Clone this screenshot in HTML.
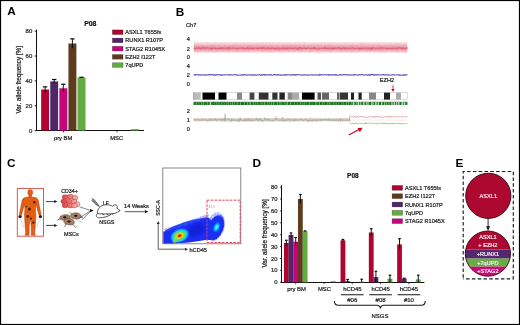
<!DOCTYPE html>
<html><head><meta charset="utf-8"><style>
html,body{margin:0;padding:0;background:#fff;overflow:hidden;}
svg{display:block;opacity:0.999;}
text{font-family:"Liberation Sans",sans-serif;}
</style></head><body>
<svg width="520" height="325" viewBox="0 0 520 325" font-family="Liberation Sans, sans-serif">
<rect width="520" height="325" fill="#fff"/>
<text x="7.20" y="14.90" font-size="11.8" text-anchor="start" font-weight="bold" fill="#000" >A</text>
<text x="90.30" y="26.00" font-size="6.9" text-anchor="middle" font-weight="bold" fill="#111" stroke="#111" stroke-width="0.2" >P08</text>
<line x1="36.50" y1="29.60" x2="36.50" y2="131.00" stroke="#111" stroke-width="1.0" />
<line x1="36.00" y1="130.50" x2="144.00" y2="130.50" stroke="#111" stroke-width="1.0" />
<line x1="34.60" y1="130.60" x2="36.50" y2="130.60" stroke="#111" stroke-width="0.9" />
<text x="32.30" y="132.70" font-size="6" text-anchor="end" fill="#1e1e1e" stroke="#1e1e1e" stroke-width="0.22" >0</text>
<line x1="34.60" y1="105.74" x2="36.50" y2="105.74" stroke="#111" stroke-width="0.9" />
<text x="32.30" y="107.84" font-size="6" text-anchor="end" fill="#1e1e1e" stroke="#1e1e1e" stroke-width="0.22" >20</text>
<line x1="34.60" y1="80.88" x2="36.50" y2="80.88" stroke="#111" stroke-width="0.9" />
<text x="32.30" y="82.98" font-size="6" text-anchor="end" fill="#1e1e1e" stroke="#1e1e1e" stroke-width="0.22" >40</text>
<line x1="34.60" y1="56.02" x2="36.50" y2="56.02" stroke="#111" stroke-width="0.9" />
<text x="32.30" y="58.12" font-size="6" text-anchor="end" fill="#1e1e1e" stroke="#1e1e1e" stroke-width="0.22" >60</text>
<line x1="34.60" y1="31.16" x2="36.50" y2="31.16" stroke="#111" stroke-width="0.9" />
<text x="32.30" y="33.26" font-size="6" text-anchor="end" fill="#1e1e1e" stroke="#1e1e1e" stroke-width="0.22" >80</text>
<line x1="63.50" y1="130.60" x2="63.50" y2="132.40" stroke="#111" stroke-width="0.8" />
<line x1="117.00" y1="130.60" x2="117.00" y2="132.40" stroke="#111" stroke-width="0.8" />
<text x="63.10" y="140.00" font-size="5.8" text-anchor="middle" fill="#1e1e1e" stroke="#1e1e1e" stroke-width="0.22" >pry BM</text>
<text x="116.70" y="140.00" font-size="5.8" text-anchor="middle" fill="#1e1e1e" stroke="#1e1e1e" stroke-width="0.22" >MSC</text>
<text transform="translate(20.8,79.8) rotate(-90)" font-size="6.3" text-anchor="middle" fill="#1e1e1e" stroke="#1e1e1e" stroke-width="0.22">Var. allele frequency [%]</text>
<rect x="41.20" y="89.58" width="7.80" height="41.02" fill="#b2032f" stroke="rgba(0,0,0,0.18)" stroke-width="0.4"/>
<line x1="45.10" y1="86.85" x2="45.10" y2="92.32" stroke="#0a0a0a" stroke-width="0.95" />
<line x1="42.90" y1="86.85" x2="47.30" y2="86.85" stroke="#0a0a0a" stroke-width="1.2" />
<rect x="50.30" y="81.50" width="7.80" height="49.10" fill="#4e266a" stroke="rgba(0,0,0,0.18)" stroke-width="0.4"/>
<line x1="54.20" y1="79.51" x2="54.20" y2="83.49" stroke="#0a0a0a" stroke-width="0.95" />
<line x1="52.00" y1="79.51" x2="56.40" y2="79.51" stroke="#0a0a0a" stroke-width="1.2" />
<rect x="59.40" y="88.34" width="7.80" height="42.26" fill="#c9037a" stroke="rgba(0,0,0,0.18)" stroke-width="0.4"/>
<line x1="63.30" y1="84.24" x2="63.30" y2="92.44" stroke="#0a0a0a" stroke-width="0.95" />
<line x1="61.10" y1="84.24" x2="65.50" y2="84.24" stroke="#0a0a0a" stroke-width="1.2" />
<rect x="68.50" y="43.59" width="7.80" height="87.01" fill="#5e3b1b" stroke="rgba(0,0,0,0.18)" stroke-width="0.4"/>
<line x1="72.40" y1="38.87" x2="72.40" y2="48.31" stroke="#0a0a0a" stroke-width="0.95" />
<line x1="70.20" y1="38.87" x2="74.60" y2="38.87" stroke="#0a0a0a" stroke-width="1.2" />
<rect x="77.60" y="77.65" width="7.80" height="52.95" fill="#64ab42" stroke="rgba(0,0,0,0.18)" stroke-width="0.4"/>
<line x1="81.50" y1="77.28" x2="81.50" y2="78.02" stroke="#0a0a0a" stroke-width="0.95" />
<line x1="79.30" y1="77.28" x2="83.70" y2="77.28" stroke="#0a0a0a" stroke-width="1.2" />
<rect x="131.10" y="129.23" width="7.80" height="1.37" fill="#64ab42" stroke="rgba(0,0,0,0.18)" stroke-width="0.4"/>
<rect x="112.40" y="29.90" width="10.60" height="4.60" fill="#b2032f" stroke="rgba(0,0,0,0.45)" stroke-width="0.5"/>
<text x="125.30" y="34.20" font-size="5.6" text-anchor="start" fill="#1e1e1e" stroke="#1e1e1e" stroke-width="0.22" >ASXL1 T655fs</text>
<rect x="112.40" y="38.12" width="10.60" height="4.60" fill="#4e266a" stroke="rgba(0,0,0,0.45)" stroke-width="0.5"/>
<text x="125.30" y="42.42" font-size="5.6" text-anchor="start" fill="#1e1e1e" stroke="#1e1e1e" stroke-width="0.22" >RUNX1 R107P</text>
<rect x="112.40" y="46.34" width="10.60" height="4.60" fill="#c9037a" stroke="rgba(0,0,0,0.45)" stroke-width="0.5"/>
<text x="125.30" y="50.64" font-size="5.6" text-anchor="start" fill="#1e1e1e" stroke="#1e1e1e" stroke-width="0.22" >STAG2 R1045X</text>
<rect x="112.40" y="54.56" width="10.60" height="4.60" fill="#5e3b1b" stroke="rgba(0,0,0,0.45)" stroke-width="0.5"/>
<text x="125.30" y="58.86" font-size="5.6" text-anchor="start" fill="#1e1e1e" stroke="#1e1e1e" stroke-width="0.22" >EZH2 I122T</text>
<rect x="112.40" y="62.78" width="10.60" height="4.60" fill="#64ab42" stroke="rgba(0,0,0,0.45)" stroke-width="0.5"/>
<text x="125.30" y="67.08" font-size="5.6" text-anchor="start" fill="#1e1e1e" stroke="#1e1e1e" stroke-width="0.22" >7qUPD</text>
<text x="175.70" y="15.70" font-size="11.8" text-anchor="start" font-weight="bold" fill="#000" >B</text>
<text x="186.00" y="27.20" font-size="5.6" text-anchor="start" fill="#1e1e1e" stroke="#1e1e1e" stroke-width="0.22" >Ch7</text>
<text x="188.30" y="41.00" font-size="5.6" text-anchor="middle" fill="#1e1e1e" stroke="#1e1e1e" stroke-width="0.22" >4</text>
<text x="188.30" y="50.60" font-size="5.6" text-anchor="middle" fill="#1e1e1e" stroke="#1e1e1e" stroke-width="0.22" >2</text>
<text x="188.30" y="59.40" font-size="5.6" text-anchor="middle" fill="#1e1e1e" stroke="#1e1e1e" stroke-width="0.22" >0</text>
<text x="188.30" y="68.20" font-size="5.6" text-anchor="middle" fill="#1e1e1e" stroke="#1e1e1e" stroke-width="0.22" >4</text>
<text x="188.30" y="77.30" font-size="5.6" text-anchor="middle" fill="#1e1e1e" stroke="#1e1e1e" stroke-width="0.22" >2</text>
<text x="188.30" y="85.90" font-size="5.6" text-anchor="middle" fill="#1e1e1e" stroke="#1e1e1e" stroke-width="0.22" >0</text>
<text x="188.30" y="112.80" font-size="5.6" text-anchor="middle" fill="#1e1e1e" stroke="#1e1e1e" stroke-width="0.22" >2</text>
<text x="188.30" y="122.00" font-size="5.6" text-anchor="middle" fill="#1e1e1e" stroke="#1e1e1e" stroke-width="0.22" >1</text>
<text x="188.30" y="131.20" font-size="5.6" text-anchor="middle" fill="#1e1e1e" stroke="#1e1e1e" stroke-width="0.22" >0</text>
<defs><linearGradient id="rb" x1="0" y1="0" x2="0" y2="1">
<stop offset="0" stop-color="#fbe2e6" stop-opacity="0"/>
<stop offset="0.12" stop-color="#f9d8de" stop-opacity="0.9"/>
<stop offset="0.3" stop-color="#f3bcc6"/>
<stop offset="0.47" stop-color="#eca0ad"/>
<stop offset="0.55" stop-color="#e58392"/>
<stop offset="0.65" stop-color="#eea8b3"/>
<stop offset="0.82" stop-color="#f5c8d0"/>
<stop offset="1" stop-color="#fbe2e6" stop-opacity="0"/>
</linearGradient></defs>
<rect x="193.8" y="41.2" width="213.60" height="12.6" fill="url(#rb)"/>
<path d="M263.0,49.9v0.7M209.3,50.6v0.7M308.3,47.6v0.7M302.2,48.6v0.7M201.8,47.4v0.7M213.2,48.4v0.7M284.5,48.6v0.7M241.5,47.1v0.7M327.8,50.7v0.7M278.5,47.2v0.7M402.3,52.1v0.7M255.7,49.3v0.7M224.6,49.4v0.7M368.1,49.3v0.7M232.4,45.5v0.7M273.3,46.6v0.7M310.8,48.8v0.7M237.8,48.4v0.7M339.1,46.5v0.7M318.9,48.9v0.7M290.6,47.0v0.7M343.1,51.7v0.7M245.9,45.8v0.7M380.7,46.9v0.7M349.6,46.7v0.7M219.0,53.8v0.7M283.1,48.2v0.7M298.2,46.9v0.7M202.2,46.3v0.7M316.2,45.0v0.7M380.8,46.8v0.7M320.8,51.1v0.7M317.7,44.2v0.7M395.6,49.2v0.7M295.1,47.7v0.7M343.6,47.5v0.7M332.0,52.0v0.7M254.6,47.9v0.7M276.2,47.9v0.7M292.4,47.7v0.7M229.7,48.6v0.7M357.9,48.6v0.7M221.4,48.1v0.7M379.9,50.2v0.7M211.0,45.6v0.7M382.5,48.9v0.7M368.8,49.2v0.7M282.5,46.8v0.7M270.4,52.0v0.7M226.0,44.6v0.7M231.4,48.3v0.7M297.4,49.6v0.7M319.6,48.1v0.7M283.3,48.3v0.7M272.7,43.3v0.7M341.3,46.0v0.7M303.9,45.8v0.7M205.3,46.0v0.7M385.9,48.9v0.7M364.2,43.9v0.7M277.6,47.3v0.7M329.3,48.7v0.7M207.1,49.4v0.7M228.5,48.7v0.7M266.4,48.1v0.7M226.1,48.1v0.7M215.5,47.8v0.7M380.6,48.5v0.7M325.0,49.1v0.7M268.0,49.4v0.7M271.6,51.0v0.7M405.9,50.9v0.7M293.3,47.2v0.7M215.6,48.2v0.7M267.0,47.7v0.7M228.3,52.0v0.7M198.7,50.6v0.7M225.1,47.3v0.7M309.8,50.6v0.7M402.8,48.5v0.7M378.2,47.6v0.7M272.1,46.6v0.7M229.5,48.5v0.7M360.2,45.5v0.7M264.2,48.7v0.7M404.2,51.9v0.7M375.9,49.4v0.7M351.8,44.5v0.7M242.2,46.1v0.7M200.0,47.9v0.7M199.8,47.8v0.7M341.7,49.7v0.7M398.1,43.4v0.7M404.8,49.7v0.7M397.8,47.1v0.7M242.3,49.2v0.7M235.8,48.9v0.7M386.1,50.9v0.7M373.3,45.1v0.7M364.6,48.5v0.7M211.9,45.6v0.7M360.9,44.2v0.7M354.0,46.8v0.7M362.4,48.3v0.7M264.8,49.9v0.7M278.4,42.8v0.7M279.5,51.3v0.7M230.1,47.0v0.7M220.9,50.8v0.7M366.1,51.8v0.7M225.0,50.8v0.7M334.2,42.9v0.7M268.6,47.0v0.7M196.8,47.8v0.7M401.2,46.6v0.7M393.2,46.0v0.7M286.5,50.8v0.7M238.9,45.3v0.7M247.6,47.7v0.7M319.1,49.6v0.7M249.2,47.1v0.7M388.2,48.6v0.7M269.4,45.4v0.7M387.0,48.8v0.7M283.6,50.3v0.7M307.4,46.9v0.7M305.6,50.3v0.7M232.9,48.4v0.7M194.6,48.5v0.7M294.9,46.9v0.7M348.7,46.4v0.7M304.5,47.5v0.7M312.4,48.3v0.7M313.5,47.1v0.7M246.9,47.5v0.7M302.2,51.7v0.7M313.8,48.4v0.7M288.5,43.5v0.7M324.6,45.6v0.7M341.8,48.0v0.7M290.4,45.8v0.7M394.9,47.6v0.7M343.2,51.7v0.7M249.2,44.6v0.7M313.3,51.9v0.7M223.1,46.7v0.7M219.8,47.3v0.7M245.2,48.4v0.7M209.4,46.3v0.7M385.4,44.9v0.7M226.8,47.4v0.7M224.3,45.1v0.7M382.4,49.5v0.7M397.3,47.8v0.7M278.9,41.8v0.7M371.6,48.6v0.7M228.3,45.8v0.7M266.2,49.2v0.7M235.6,46.7v0.7M198.0,51.2v0.7M312.1,47.7v0.7M264.6,48.2v0.7M327.1,47.3v0.7M404.2,48.0v0.7M362.2,49.1v0.7M250.5,47.9v0.7M202.3,48.4v0.7M221.5,46.5v0.7M284.0,51.4v0.7M249.0,46.0v0.7M225.7,50.5v0.7M343.4,46.8v0.7M212.9,51.1v0.7M284.6,49.2v0.7M209.3,50.9v0.7M365.0,47.0v0.7M211.7,48.6v0.7M378.1,47.5v0.7M290.7,46.7v0.7M391.7,50.4v0.7M251.0,49.9v0.7M244.7,50.0v0.7M217.2,48.5v0.7M236.9,48.7v0.7M260.4,46.9v0.7M255.7,51.4v0.7M300.6,48.9v0.7M197.7,49.8v0.7M247.3,51.5v0.7M311.5,48.4v0.7M234.3,43.3v0.7M216.5,48.9v0.7M368.7,45.9v0.7M372.1,49.1v0.7M277.8,44.9v0.7M403.6,48.0v0.7M267.0,49.7v0.7M329.6,45.2v0.7M280.2,47.7v0.7M221.5,48.7v0.7M208.9,48.0v0.7M228.7,46.5v0.7M211.8,50.4v0.7M337.0,44.5v0.7M254.0,48.2v0.7M291.9,49.8v0.7M227.4,46.6v0.7M399.2,48.6v0.7M401.6,46.6v0.7M400.1,47.6v0.7M259.9,48.0v0.7M275.3,48.2v0.7M295.2,46.7v0.7M301.6,48.1v0.7M194.9,48.0v0.7M279.1,49.0v0.7M202.7,49.9v0.7M243.5,48.4v0.7M318.9,44.7v0.7M334.3,47.5v0.7M346.7,49.6v0.7M263.5,46.7v0.7M404.1,50.1v0.7M331.2,50.8v0.7M203.2,50.4v0.7M327.8,44.3v0.7M350.6,48.5v0.7M305.7,47.0v0.7M301.5,50.0v0.7M370.3,44.8v0.7M318.6,50.6v0.7M341.9,46.1v0.7M242.9,49.2v0.7M270.8,48.3v0.7M216.2,49.5v0.7M327.9,45.8v0.7M327.6,47.1v0.7M194.5,45.9v0.7M364.2,48.1v0.7M308.1,45.6v0.7M334.6,51.2v0.7M247.7,49.5v0.7M209.7,47.8v0.7M237.6,51.5v0.7M351.8,50.5v0.7M275.5,47.7v0.7M296.1,46.6v0.7M325.6,44.8v0.7M331.1,49.1v0.7M248.0,48.7v0.7M352.6,47.2v0.7M196.5,50.7v0.7M206.8,47.7v0.7M341.7,51.2v0.7M338.1,47.5v0.7M293.1,50.5v0.7M293.4,51.4v0.7M236.4,51.1v0.7M402.7,48.5v0.7M291.8,47.9v0.7M368.9,50.3v0.7M251.2,47.6v0.7M238.6,49.5v0.7M318.0,47.6v0.7M224.1,43.0v0.7M222.1,47.3v0.7M369.0,43.7v0.7M344.0,47.9v0.7M243.2,50.0v0.7M199.1,46.6v0.7M194.6,45.8v0.7M258.3,48.2v0.7M223.9,47.1v0.7M373.3,49.6v0.7M194.2,48.1v0.7M219.4,44.1v0.7M391.7,47.1v0.7M255.7,43.7v0.7M273.3,42.1v0.7M319.6,52.9v0.7M270.8,46.6v0.7M204.1,48.8v0.7M215.5,49.0v0.7M393.6,46.6v0.7M247.1,47.9v0.7M234.4,50.6v0.7M273.5,52.3v0.7M367.2,46.9v0.7M328.6,52.4v0.7M311.1,45.5v0.7M347.5,51.3v0.7M290.1,49.1v0.7M354.6,47.0v0.7M204.3,46.7v0.7M391.8,49.8v0.7M267.2,49.8v0.7M257.4,47.7v0.7M249.4,42.4v0.7M333.9,47.3v0.7M278.0,50.6v0.7M229.5,48.9v0.7M387.3,49.3v0.7M300.0,49.0v0.7M406.6,52.6v0.7M289.9,49.0v0.7M213.2,49.2v0.7M266.8,49.4v0.7M249.0,48.9v0.7M315.5,50.8v0.7M282.0,45.8v0.7M282.2,46.1v0.7M266.0,47.8v0.7M207.1,47.2v0.7M220.7,53.5v0.7M301.3,45.2v0.7M239.9,45.1v0.7M251.7,48.1v0.7M289.0,50.2v0.7M397.6,50.6v0.7M198.5,44.6v0.7M200.7,47.0v0.7M294.9,43.8v0.7M319.2,50.2v0.7M391.8,48.1v0.7M370.1,51.6v0.7M246.9,43.7v0.7M217.1,49.5v0.7M339.5,50.2v0.7M394.9,47.6v0.7M357.2,45.1v0.7M291.5,47.5v0.7M360.9,47.9v0.7M243.5,50.7v0.7M258.7,46.6v0.7M221.1,48.1v0.7M343.0,51.1v0.7M217.8,50.4v0.7M318.3,49.2v0.7M276.7,48.6v0.7M196.0,50.9v0.7M258.2,43.0v0.7M331.5,49.4v0.7M382.6,46.6v0.7M246.6,48.3v0.7M399.0,47.6v0.7M198.5,46.4v0.7M300.2,47.1v0.7M248.7,46.2v0.7M336.3,49.4v0.7M201.1,47.4v0.7M266.0,45.3v0.7M236.1,49.6v0.7M364.1,47.9v0.7M237.6,45.6v0.7M401.0,46.6v0.7M243.1,51.7v0.7M241.1,48.2v0.7M397.1,46.3v0.7M299.7,48.7v0.7M282.9,49.5v0.7M335.9,49.2v0.7M277.8,47.7v0.7M239.3,49.2v0.7M204.9,47.9v0.7M206.6,44.6v0.7M382.5,50.9v0.7M350.3,53.0v0.7M264.1,48.0v0.7M233.4,51.3v0.7M200.6,46.7v0.7M335.7,46.6v0.7M264.7,49.5v0.7M230.0,49.8v0.7M268.9,48.1v0.7M397.9,52.0v0.7M238.1,51.9v0.7M270.0,49.8v0.7M286.2,44.6v0.7M204.3,46.1v0.7M390.2,48.4v0.7M235.0,45.2v0.7M200.3,51.5v0.7M281.5,49.5v0.7M202.5,44.8v0.7M201.2,52.5v0.7M248.7,49.9v0.7M353.4,49.6v0.7M252.0,47.0v0.7M398.4,46.9v0.7M346.9,47.0v0.7M261.4,48.1v0.7M355.2,48.3v0.7M389.6,44.7v0.7M199.0,44.3v0.7M243.8,42.9v0.7M397.6,48.9v0.7M276.4,48.1v0.7M299.2,50.3v0.7M392.0,49.6v0.7M351.5,51.6v0.7M369.5,48.5v0.7M263.8,45.3v0.7M262.1,45.7v0.7M210.7,50.9v0.7M235.9,48.1v0.7M207.6,46.5v0.7M201.0,46.3v0.7M403.2,47.5v0.7M382.5,49.7v0.7M211.8,48.0v0.7M214.4,44.8v0.7M289.3,48.1v0.7M243.8,45.6v0.7M337.8,49.6v0.7M353.6,49.9v0.7M219.7,45.6v0.7M373.4,47.4v0.7M273.5,50.7v0.7M351.5,48.6v0.7M246.2,49.6v0.7M226.5,50.2v0.7M263.5,46.3v0.7M278.4,50.6v0.7M243.2,48.0v0.7M366.5,44.4v0.7M215.7,42.8v0.7M295.2,49.8v0.7M389.1,44.4v0.7M202.4,47.8v0.7M234.3,49.1v0.7M401.6,43.9v0.7M273.3,45.7v0.7M378.8,46.6v0.7M359.9,48.6v0.7M395.8,50.3v0.7M326.2,49.8v0.7M240.3,47.3v0.7M237.4,49.0v0.7M248.2,45.6v0.7M237.3,46.3v0.7M196.2,46.6v0.7M233.3,50.9v0.7M260.5,49.2v0.7M310.9,51.7v0.7M207.3,49.8v0.7M311.3,49.4v0.7M330.3,49.2v0.7M342.3,48.8v0.7M281.3,47.7v0.7M397.4,49.9v0.7M260.5,46.3v0.7M282.8,47.3v0.7M378.4,50.1v0.7M235.9,48.1v0.7M349.3,48.2v0.7M386.4,48.3v0.7M284.3,49.0v0.7M382.4,46.2v0.7M292.2,48.3v0.7M311.6,48.4v0.7M330.6,48.9v0.7M326.7,47.6v0.7M273.0,46.9v0.7M254.3,48.1v0.7M305.1,49.0v0.7M298.6,47.6v0.7M365.7,49.5v0.7M220.9,47.8v0.7M395.2,50.5v0.7M205.2,47.7v0.7M391.6,44.6v0.7M326.3,51.0v0.7M369.9,50.1v0.7M241.2,51.2v0.7M280.2,50.3v0.7M232.9,44.9v0.7M240.4,46.1v0.7M275.7,49.6v0.7M220.1,48.2v0.7M385.5,51.5v0.7M202.6,44.8v0.7M201.9,46.8v0.7M372.8,50.2v0.7M311.3,50.0v0.7M327.7,47.3v0.7M318.2,50.2v0.7M284.7,46.9v0.7M287.4,46.2v0.7M198.8,46.3v0.7M244.0,46.4v0.7M356.9,48.5v0.7M232.2,45.8v0.7M294.9,49.0v0.7M285.8,48.8v0.7M213.4,45.8v0.7M202.5,49.0v0.7M329.7,51.1v0.7M359.9,49.8v0.7M303.1,50.4v0.7M274.5,48.9v0.7M396.9,50.8v0.7M406.6,51.2v0.7M350.2,48.6v0.7M403.5,46.8v0.7M298.9,52.6v0.7M229.1,46.8v0.7M362.2,48.8v0.7M268.8,47.8v0.7M355.3,50.5v0.7M252.5,51.9v0.7M368.0,49.6v0.7M390.3,50.0v0.7M238.3,47.9v0.7M262.0,50.6v0.7M201.7,48.6v0.7M393.8,49.2v0.7M339.0,49.1v0.7M361.4,47.3v0.7M218.4,45.2v0.7M270.6,47.5v0.7M380.3,45.5v0.7M382.3,47.2v0.7M216.1,51.1v0.7M278.0,48.0v0.7M364.2,47.5v0.7M317.1,54.5v0.7M270.7,48.3v0.7M231.6,45.8v0.7M352.6,51.8v0.7M248.0,49.3v0.7M330.3,50.9v0.7M335.6,47.8v0.7M260.6,48.7v0.7M225.7,48.1v0.7M325.4,45.8v0.7M385.1,49.1v0.7M222.0,48.5v0.7M198.6,51.1v0.7M194.4,47.5v0.7M270.1,48.9v0.7M241.7,45.7v0.7M237.4,46.7v0.7M327.1,47.0v0.7M393.9,48.3v0.7M245.8,48.7v0.7M330.1,48.9v0.7M379.9,48.5v0.7M250.2,46.0v0.7M196.3,46.4v0.7M268.6,46.0v0.7M331.7,43.5v0.7M350.5,49.8v0.7M246.9,48.6v0.7M307.3,47.7v0.7M280.5,48.2v0.7M360.2,48.8v0.7M196.4,43.4v0.7M224.2,46.5v0.7M236.4,46.2v0.7M330.8,46.5v0.7M367.5,48.9v0.7M257.9,49.7v0.7M204.2,50.9v0.7M346.6,45.7v0.7M195.2,50.0v0.7M293.2,45.2v0.7M352.2,46.7v0.7M216.3,48.5v0.7M243.4,49.9v0.7M353.9,48.6v0.7M342.3,50.0v0.7M250.6,45.4v0.7M312.1,44.7v0.7M305.6,49.5v0.7M250.5,44.7v0.7M240.2,43.9v0.7M381.8,49.7v0.7M244.2,48.3v0.7M352.7,51.4v0.7M263.6,46.9v0.7M381.8,47.4v0.7M387.7,49.5v0.7M328.5,47.0v0.7M402.9,45.2v0.7M294.1,49.8v0.7M377.0,45.4v0.7M287.2,47.7v0.7M259.5,45.4v0.7M239.1,47.5v0.7M388.3,47.5v0.7M224.7,49.1v0.7M392.2,48.3v0.7M267.5,48.4v0.7M202.7,48.5v0.7M341.7,45.9v0.7M351.2,45.7v0.7M207.8,46.4v0.7M368.4,47.0v0.7M368.9,48.7v0.7M379.2,47.6v0.7M389.1,49.0v0.7M237.7,47.8v0.7M217.7,52.1v0.7M367.2,49.0v0.7M329.3,49.4v0.7M255.2,45.5v0.7M215.1,51.0v0.7M237.6,50.1v0.7M262.0,47.7v0.7M248.6,48.3v0.7M254.2,47.7v0.7M262.3,46.1v0.7M399.7,44.0v0.7M325.9,48.0v0.7M200.4,46.2v0.7M358.9,49.3v0.7M267.9,47.4v0.7M240.1,45.6v0.7M378.0,51.4v0.7M230.2,50.2v0.7M194.1,49.2v0.7M402.7,51.5v0.7M194.7,45.7v0.7M364.0,48.2v0.7M233.2,46.2v0.7M371.5,48.2v0.7M249.5,49.7v0.7M239.7,47.5v0.7M343.2,47.1v0.7M329.8,48.1v0.7M211.1,48.9v0.7M361.9,44.9v0.7M327.9,46.8v0.7M278.1,49.8v0.7M384.0,51.9v0.7M199.2,50.4v0.7M237.8,47.7v0.7M300.9,52.6v0.7M274.8,49.2v0.7M292.2,47.1v0.7M307.3,48.2v0.7M331.8,44.6v0.7M268.2,47.5v0.7M373.9,49.2v0.7M335.2,48.0v0.7M287.5,46.8v0.7M359.0,47.1v0.7M292.5,47.6v0.7M382.9,48.2v0.7M258.2,49.5v0.7M344.0,48.8v0.7M227.1,47.1v0.7M246.7,46.9v0.7M228.2,50.4v0.7M263.9,50.2v0.7M349.5,53.4v0.7M215.5,49.0v0.7M275.9,47.9v0.7M403.9,49.1v0.7M286.7,44.8v0.7M235.7,47.5v0.7M237.9,47.3v0.7M276.7,50.2v0.7M362.8,48.5v0.7M341.9,45.1v0.7M292.8,48.1v0.7M224.1,46.4v0.7M352.1,46.8v0.7M387.7,45.6v0.7M353.8,49.3v0.7M283.8,48.6v0.7M381.8,51.4v0.7M359.1,46.8v0.7M339.0,44.2v0.7M330.8,46.4v0.7M328.0,48.6v0.7M214.7,44.9v0.7M346.1,49.9v0.7M328.3,48.1v0.7M291.0,50.3v0.7M326.6,45.4v0.7M392.5,49.8v0.7M232.9,46.0v0.7M276.8,45.1v0.7M298.4,48.7v0.7M309.9,48.0v0.7M228.2,49.1v0.7M304.7,43.2v0.7M215.4,45.8v0.7M347.0,46.9v0.7M303.2,45.6v0.7M305.2,45.1v0.7M281.5,49.5v0.7M340.0,47.6v0.7M277.6,48.2v0.7M404.1,47.0v0.7M269.7,49.7v0.7M279.2,48.7v0.7M196.6,46.2v0.7M342.9,49.2v0.7M269.0,48.0v0.7M352.2,49.6v0.7M394.6,46.6v0.7M365.0,47.9v0.7M277.5,48.4v0.7M359.7,49.2v0.7M366.7,46.5v0.7M313.9,46.3v0.7M242.1,50.0v0.7M330.2,47.7v0.7M368.7,49.1v0.7M256.7,45.9v0.7M310.9,50.9v0.7M269.6,50.9v0.7M375.5,47.9v0.7M248.0,50.1v0.7M284.8,48.2v0.7M348.0,48.2v0.7M253.9,48.2v0.7M296.2,49.9v0.7M285.3,46.1v0.7M271.2,45.8v0.7M392.2,48.5v0.7M370.6,47.5v0.7M387.3,48.3v0.7M371.4,47.0v0.7M329.0,48.4v0.7M397.1,48.1v0.7M333.9,48.1v0.7M224.3,49.1v0.7M243.7,48.4v0.7M226.4,46.2v0.7M386.9,48.4v0.7M384.1,46.9v0.7M323.7,48.7v0.7M384.7,45.0v0.7M362.1,48.8v0.7M341.8,46.9v0.7M307.2,48.0v0.7M382.3,45.8v0.7M312.4,48.0v0.7M223.6,49.6v0.7M299.1,50.3v0.7M224.6,48.9v0.7M298.8,45.5v0.7M378.1,48.1v0.7M195.2,49.4v0.7M314.0,46.1v0.7M335.9,49.2v0.7M283.3,46.4v0.7M399.0,50.8v0.7M329.7,49.5v0.7M199.9,45.6v0.7M392.8,46.1v0.7M264.4,50.6v0.7M297.3,47.8v0.7M385.5,51.4v0.7M327.4,48.8v0.7M266.1,49.4v0.7M295.2,46.6v0.7M306.1,48.3v0.7M286.8,46.7v0.7M284.0,44.4v0.7M256.4,46.8v0.7M370.6,46.1v0.7M251.8,49.5v0.7M302.0,51.1v0.7M363.0,47.6v0.7M264.5,47.4v0.7M319.1,49.7v0.7M329.4,48.2v0.7M348.2,47.5v0.7M383.0,47.5v0.7M258.0,47.9v0.7M195.1,49.8v0.7M323.8,52.5v0.7M334.4,49.2v0.7M324.5,43.6v0.7M325.5,45.8v0.7M321.2,45.8v0.7M339.3,48.8v0.7M291.6,51.1v0.7M356.7,49.2v0.7M201.7,48.9v0.7M359.2,50.7v0.7M272.6,46.5v0.7M369.5,48.7v0.7M248.9,45.5v0.7M258.3,46.5v0.7M285.8,49.0v0.7M330.9,48.7v0.7M315.0,47.8v0.7M202.2,50.9v0.7M316.7,50.7v0.7M390.0,47.8v0.7M276.5,48.2v0.7M320.2,53.6v0.7M295.4,45.8v0.7M281.9,50.5v0.7M239.1,49.9v0.7M226.2,48.3v0.7M339.9,48.1v0.7M219.8,49.0v0.7M379.5,47.9v0.7M221.3,51.4v0.7M245.5,48.5v0.7M350.5,48.4v0.7M359.1,48.7v0.7M346.2,50.2v0.7M211.8,45.4v0.7M328.1,47.5v0.7M392.9,45.8v0.7M248.1,51.4v0.7M196.2,47.4v0.7M196.9,45.8v0.7M210.8,45.0v0.7M260.2,47.9v0.7M377.7,46.8v0.7M297.7,50.0v0.7M316.6,48.8v0.7M287.5,47.6v0.7M364.1,47.0v0.7M271.4,46.3v0.7M283.1,45.8v0.7M276.2,49.2v0.7M361.4,43.2v0.7M314.9,47.9v0.7M401.8,48.8v0.7M344.0,49.0v0.7M323.2,46.4v0.7M402.6,49.5v0.7M259.7,45.6v0.7M285.3,49.7v0.7M340.1,46.8v0.7M322.3,51.1v0.7M254.3,45.8v0.7M194.2,47.9v0.7M319.1,50.3v0.7M368.1,48.6v0.7M371.8,47.7v0.7M367.2,49.9v0.7M252.3,46.1v0.7M375.6,49.2v0.7M389.0,45.1v0.7M267.9,50.4v0.7M364.1,49.5v0.7M236.6,48.1v0.7M243.8,43.2v0.7M323.4,47.1v0.7M237.9,46.0v0.7M248.2,48.1v0.7M292.0,44.4v0.7M212.5,49.4v0.7M243.5,44.7v0.7M317.6,51.6v0.7M305.3,45.5v0.7M295.6,46.9v0.7M234.9,47.4v0.7M232.4,47.5v0.7M314.4,46.2v0.7M279.8,46.9v0.7M203.3,48.0v0.7M406.8,47.4v0.7M329.0,48.8v0.7M362.0,49.7v0.7M267.5,50.5v0.7M304.8,48.6v0.7M405.4,48.2v0.7M378.8,45.4v0.7M249.7,48.3v0.7M360.2,43.6v0.7M357.7,50.4v0.7M368.7,49.7v0.7M201.9,47.7v0.7M236.7,48.5v0.7M204.7,48.9v0.7M312.9,49.7v0.7M396.1,46.4v0.7M388.2,50.7v0.7M278.7,49.2v0.7M219.4,49.7v0.7M314.4,47.7v0.7M330.6,51.1v0.7M277.8,47.3v0.7M289.6,51.0v0.7M405.6,52.7v0.7M241.2,49.7v0.7M269.0,48.5v0.7M386.6,51.4v0.7M203.8,45.8v0.7M361.8,47.3v0.7M404.3,45.2v0.7M205.7,50.3v0.7M394.5,50.9v0.7M338.4,47.3v0.7M355.7,50.8v0.7M216.3,47.4v0.7M220.3,49.5v0.7M296.6,48.9v0.7M224.4,49.5v0.7M338.5,51.4v0.7M235.5,48.4v0.7M201.5,49.4v0.7M393.3,47.4v0.7M378.9,49.0v0.7M289.3,47.4v0.7M214.5,51.7v0.7M328.0,46.4v0.7M290.4,46.0v0.7M295.8,51.4v0.7M328.0,49.0v0.7M205.9,49.3v0.7M346.3,47.0v0.7M379.8,47.7v0.7M250.7,47.1v0.7M251.7,48.7v0.7M373.1,47.5v0.7M298.7,49.2v0.7M261.7,48.9v0.7M402.8,47.5v0.7M205.9,50.6v0.7M238.9,46.2v0.7M295.8,47.7v0.7M236.9,49.7v0.7M271.6,55.5v0.7M391.4,47.7v0.7M214.6,47.0v0.7M206.1,52.4v0.7M349.0,46.5v0.7M197.2,53.7v0.7M366.2,47.5v0.7M194.2,49.1v0.7M371.6,46.8v0.7M286.8,47.9v0.7M388.6,48.6v0.7M223.3,50.8v0.7M232.3,48.5v0.7M235.8,44.8v0.7M210.7,50.6v0.7M299.6,49.6v0.7M252.3,48.9v0.7M345.0,50.9v0.7M367.2,46.9v0.7M207.8,47.4v0.7M350.3,45.3v0.7M205.6,49.9v0.7M367.0,46.0v0.7M378.5,51.6v0.7M299.1,52.7v0.7M295.6,48.5v0.7M380.1,48.0v0.7M371.4,49.4v0.7M272.2,49.1v0.7M320.9,49.8v0.7M194.8,45.8v0.7M303.9,47.8v0.7M219.6,47.2v0.7M378.7,44.3v0.7M262.4,47.6v0.7M354.3,46.1v0.7M206.9,51.7v0.7M299.5,44.4v0.7M303.4,45.5v0.7M198.2,47.6v0.7M400.4,48.3v0.7M215.7,49.4v0.7M247.3,48.3v0.7M214.4,47.6v0.7M343.1,48.2v0.7M321.8,48.5v0.7M316.9,44.9v0.7M215.8,47.6v0.7M379.5,48.0v0.7M220.1,47.5v0.7M299.2,46.4v0.7M219.9,48.1v0.7M280.4,49.9v0.7M377.7,50.2v0.7M225.2,45.0v0.7M228.9,46.6v0.7M370.2,50.0v0.7M283.6,47.3v0.7M373.2,46.0v0.7M394.9,47.8v0.7M359.7,47.3v0.7M265.4,49.4v0.7M286.8,51.9v0.7M388.8,47.7v0.7M367.9,48.5v0.7M304.3,47.5v0.7M398.4,49.6v0.7M284.0,47.5v0.7M328.9,46.4v0.7M208.6,50.0v0.7M286.3,47.7v0.7M223.6,48.1v0.7M400.9,48.9v0.7M329.1,43.2v0.7M366.7,51.4v0.7M201.1,45.2v0.7M330.8,47.8v0.7M252.2,51.2v0.7M309.6,50.7v0.7M247.3,46.8v0.7M304.9,43.4v0.7M255.2,50.2v0.7M259.0,47.5v0.7M320.7,47.2v0.7M398.0,46.4v0.7M293.4,48.0v0.7M307.8,48.7v0.7M221.9,49.0v0.7M256.5,46.7v0.7M245.8,49.1v0.7M212.6,44.3v0.7M324.1,46.9v0.7M315.6,47.3v0.7M345.5,47.0v0.7M292.2,45.3v0.7M294.0,47.2v0.7M260.1,48.2v0.7M303.3,49.6v0.7M275.6,47.8v0.7M269.1,47.9v0.7M377.9,48.3v0.7M298.8,50.8v0.7M254.6,49.9v0.7M358.7,48.0v0.7M227.7,52.0v0.7M287.8,49.8v0.7M207.0,46.4v0.7M350.9,49.6v0.7M217.1,48.9v0.7M351.6,53.3v0.7M226.8,47.1v0.7M338.1,49.8v0.7M325.4,50.4v0.7M304.4,44.9v0.7M351.6,48.0v0.7M295.3,44.6v0.7M361.5,46.9v0.7M221.0,43.6v0.7M379.8,51.7v0.7M318.9,48.2v0.7M300.1,50.8v0.7M283.1,47.5v0.7M361.2,50.1v0.7M274.9,46.0v0.7M290.4,44.9v0.7M256.4,49.0v0.7M277.3,46.2v0.7M262.6,47.4v0.7M361.9,49.5v0.7M288.6,46.1v0.7M233.1,47.7v0.7M316.7,49.2v0.7M318.0,52.1v0.7M263.0,50.6v0.7M373.9,50.9v0.7M237.4,43.6v0.7M284.9,48.4v0.7M203.9,47.9v0.7M314.5,43.4v0.7M359.0,48.2v0.7M308.8,50.6v0.7M304.3,48.1v0.7M340.2,46.6v0.7M320.8,49.4v0.7M268.8,51.1v0.7M306.0,47.1v0.7M214.9,46.6v0.7M313.7,49.6v0.7M316.4,52.1v0.7M297.8,44.4v0.7M287.8,43.1v0.7M267.1,43.2v0.7M307.0,48.6v0.7M261.7,46.9v0.7M402.8,49.3v0.7M217.4,45.9v0.7M384.9,46.7v0.7M405.3,44.5v0.7M383.5,47.0v0.7M255.7,48.7v0.7M303.1,46.7v0.7M232.8,48.1v0.7M328.4,46.5v0.7M406.1,46.9v0.7M329.8,50.2v0.7M362.0,48.7v0.7M259.3,48.0v0.7M258.8,47.9v0.7M373.7,45.4v0.7M235.8,46.5v0.7M300.1,46.5v0.7M332.0,47.6v0.7M307.3,50.8v0.7M281.6,48.1v0.7M219.8,50.1v0.7M216.6,51.1v0.7M215.2,49.3v0.7M369.6,50.3v0.7M324.7,48.4v0.7M196.5,47.4v0.7M358.4,46.6v0.7M269.4,51.1v0.7M230.0,48.0v0.7M386.9,49.1v0.7M318.2,46.8v0.7M276.2,50.0v0.7M205.5,50.2v0.7M398.8,46.3v0.7M287.7,46.9v0.7M203.2,47.0v0.7M392.6,49.2v0.7M385.8,46.7v0.7M368.1,47.2v0.7M398.9,50.8v0.7M299.6,49.6v0.7M277.1,47.6v0.7M347.3,48.4v0.7M380.8,49.9v0.7M297.3,48.5v0.7M230.9,46.6v0.7M270.4,50.3v0.7M255.9,53.3v0.7M313.7,50.0v0.7M276.2,49.8v0.7M279.9,49.1v0.7M370.2,48.5v0.7M268.8,48.1v0.7M254.4,49.5v0.7M244.5,51.1v0.7M266.7,48.8v0.7M227.1,47.8v0.7M251.4,47.2v0.7M372.2,49.7v0.7M372.4,49.7v0.7M365.7,49.2v0.7M348.1,49.7v0.7M274.3,49.5v0.7M396.9,47.7v0.7M301.6,48.4v0.7M221.8,50.4v0.7M344.7,47.8v0.7M319.3,52.6v0.7M272.4,48.2v0.7M239.2,51.0v0.7M380.1,49.9v0.7M309.7,49.9v0.7M251.6,48.4v0.7M334.2,46.0v0.7M315.1,47.3v0.7M212.2,50.0v0.7M231.6,49.2v0.7M335.4,46.6v0.7M217.1,46.3v0.7M300.7,47.3v0.7M257.2,49.8v0.7M242.2,48.8v0.7M220.7,47.7v0.7M280.0,46.4v0.7M387.9,48.8v0.7M377.8,43.8v0.7M222.0,48.0v0.7M339.0,48.6v0.7M335.5,46.8v0.7M334.6,49.8v0.7M343.2,48.1v0.7M269.0,52.2v0.7M328.1,48.5v0.7M388.7,49.0v0.7M350.6,48.0v0.7M202.3,47.5v0.7M228.4,48.7v0.7M275.1,49.8v0.7M202.2,47.0v0.7M232.2,50.9v0.7M373.1,45.1v0.7M248.2,46.7v0.7M286.7,47.3v0.7M194.0,46.3v0.7M372.0,48.4v0.7M203.0,46.4v0.7M376.2,47.6v0.7M246.0,47.7v0.7M217.5,48.5v0.7M389.1,46.7v0.7M353.9,50.9v0.7M277.9,49.8v0.7M353.5,48.9v0.7M213.0,46.6v0.7M395.9,43.8v0.7M341.5,50.3v0.7M351.6,49.5v0.7M290.5,45.5v0.7M205.4,47.4v0.7M303.1,46.0v0.7M392.0,50.6v0.7M203.1,50.7v0.7M343.9,48.7v0.7M310.5,46.6v0.7M400.9,46.4v0.7M247.1,46.1v0.7M206.5,46.7v0.7M236.8,49.8v0.7M260.1,50.3v0.7M337.0,50.6v0.7M244.6,48.2v0.7M288.9,50.6v0.7M393.7,47.0v0.7M382.8,49.5v0.7M224.1,46.4v0.7M368.0,47.4v0.7M310.9,48.2v0.7M336.2,46.8v0.7M321.7,44.6v0.7M371.3,49.0v0.7M218.3,47.6v0.7M237.9,50.0v0.7M206.7,47.8v0.7M343.7,49.5v0.7M289.5,49.5v0.7M293.9,49.3v0.7M271.3,48.5v0.7M196.1,48.8v0.7M405.7,48.1v0.7M347.0,47.2v0.7M403.2,47.2v0.7M298.2,47.7v0.7M286.6,49.1v0.7M195.6,50.5v0.7M390.2,46.3v0.7M393.6,45.8v0.7M333.2,48.1v0.7M223.4,49.7v0.7M199.7,48.7v0.7M257.1,44.1v0.7M233.5,45.5v0.7M391.7,45.0v0.7M229.8,49.0v0.7M352.4,44.2v0.7M263.6,49.7v0.7M262.2,51.7v0.7M272.5,46.2v0.7M371.4,47.5v0.7M244.9,50.7v0.7M328.0,48.8v0.7M368.9,46.8v0.7M395.6,43.7v0.7M299.4,46.9v0.7M257.8,48.1v0.7M317.9,50.9v0.7M228.8,49.6v0.7M288.5,49.0v0.7M202.3,47.9v0.7M287.7,49.3v0.7M194.4,51.2v0.7M373.4,50.4v0.7M284.7,45.2v0.7M254.3,46.8v0.7M283.8,46.0v0.7M266.1,45.2v0.7M370.2,49.3v0.7M386.9,49.0v0.7M288.5,49.6v0.7M314.1,47.3v0.7M212.0,49.2v0.7M262.9,42.7v0.7M387.9,49.5v0.7M378.7,53.4v0.7M326.2,47.2v0.7M367.1,51.0v0.7M323.9,49.3v0.7M257.2,43.4v0.7M296.5,45.9v0.7M332.1,47.5v0.7M382.9,49.9v0.7M199.7,49.3v0.7M289.4,51.0v0.7M212.0,47.0v0.7M317.9,46.4v0.7M282.7,45.4v0.7M278.5,47.6v0.7M218.2,50.0v0.7M310.9,52.1v0.7M217.8,49.1v0.7M214.1,46.9v0.7M307.2,48.1v0.7M312.1,50.5v0.7M242.2,47.2v0.7M303.4,47.6v0.7M319.5,50.0v0.7M209.5,49.1v0.7M287.7,49.8v0.7M346.4,46.1v0.7M355.5,52.9v0.7M347.9,52.3v0.7M215.6,49.1v0.7M230.4,46.3v0.7M398.9,44.8v0.7M223.0,46.7v0.7M359.6,49.5v0.7M273.3,48.6v0.7M197.0,46.9v0.7M257.9,47.3v0.7M344.9,44.2v0.7M326.5,50.1v0.7M380.1,43.8v0.7M379.8,46.3v0.7M229.7,48.0v0.7M356.9,46.2v0.7M339.2,48.6v0.7M273.5,47.1v0.7M351.3,51.3v0.7M203.1,47.0v0.7M322.8,50.2v0.7M365.3,49.7v0.7M217.9,50.9v0.7M248.2,46.7v0.7M235.1,44.3v0.7M318.0,49.4v0.7M218.1,49.1v0.7M364.8,48.2v0.7M233.4,46.5v0.7M340.6,47.5v0.7M275.1,50.7v0.7M308.8,51.5v0.7M341.1,49.9v0.7M196.7,43.3v0.7M266.9,49.5v0.7M380.3,50.1v0.7M364.8,49.4v0.7M368.6,48.4v0.7M338.9,46.2v0.7M227.6,49.6v0.7M374.3,44.8v0.7M324.3,50.7v0.7M210.0,47.4v0.7M384.8,49.4v0.7M319.7,49.3v0.7M270.9,48.4v0.7M293.7,46.3v0.7M269.3,47.1v0.7M195.1,46.4v0.7M198.2,47.2v0.7M291.9,48.7v0.7M224.9,48.0v0.7M337.1,47.9v0.7M300.6,49.8v0.7M249.8,45.8v0.7M398.2,47.0v0.7M405.7,50.7v0.7M358.5,48.7v0.7M380.1,48.6v0.7M329.4,45.2v0.7M271.3,47.4v0.7M380.2,51.8v0.7M394.3,47.4v0.7M356.8,46.5v0.7M351.8,45.1v0.7M268.7,47.9v0.7M311.4,47.5v0.7M265.8,48.5v0.7M262.8,50.5v0.7M272.3,47.9v0.7M245.8,48.3v0.7M222.8,50.0v0.7M195.3,49.7v0.7M289.0,46.4v0.7M315.3,47.7v0.7M208.0,49.3v0.7M258.2,46.9v0.7M311.6,51.3v0.7M394.0,45.6v0.7M318.4,52.1v0.7M210.9,49.3v0.7M404.7,50.6v0.7M270.1,48.4v0.7M379.3,45.9v0.7M208.3,43.6v0.7M252.7,48.5v0.7M248.8,49.3v0.7M251.1,48.3v0.7M344.3,48.5v0.7M236.6,50.2v0.7M322.6,50.1v0.7M235.8,45.8v0.7M350.6,50.9v0.7M210.7,47.4v0.7M366.7,49.5v0.7M223.0,46.7v0.7M234.0,43.9v0.7M330.5,47.1v0.7M390.9,48.5v0.7M353.9,49.9v0.7M332.4,45.5v0.7M265.9,49.9v0.7M206.1,47.6v0.7M327.6,48.4v0.7M265.3,45.3v0.7M248.7,48.2v0.7M292.8,52.9v0.7M314.3,48.5v0.7M404.7,50.8v0.7M348.5,49.1v0.7M264.1,49.1v0.7M224.3,48.8v0.7M357.7,51.4v0.7M284.2,50.2v0.7M308.9,45.8v0.7M334.2,46.7v0.7M322.3,46.4v0.7M248.9,51.1v0.7M345.8,48.4v0.7M259.9,44.5v0.7M358.8,50.4v0.7M253.2,47.8v0.7M305.6,49.1v0.7M195.7,47.7v0.7M295.4,46.1v0.7M271.2,45.1v0.7M405.2,48.6v0.7M213.0,51.6v0.7M199.8,48.6v0.7M301.0,48.7v0.7M312.4,50.2v0.7M271.9,52.6v0.7M225.7,49.6v0.7M390.6,51.2v0.7M228.4,51.7v0.7M245.6,48.8v0.7M403.6,45.1v0.7M267.3,48.1v0.7M364.8,46.3v0.7M386.8,48.6v0.7M216.8,48.0v0.7M331.7,47.3v0.7M279.6,48.6v0.7M314.3,47.5v0.7M281.4,52.5v0.7M327.8,45.6v0.7M241.7,48.1v0.7M286.5,49.7v0.7M243.2,49.1v0.7M331.1,51.5v0.7M257.6,49.6v0.7M315.5,48.0v0.7M227.3,50.9v0.7M250.9,44.9v0.7M354.3,48.9v0.7M264.6,46.6v0.7M297.5,49.1v0.7M339.6,47.3v0.7M321.4,45.5v0.7M382.4,48.9v0.7M238.6,49.6v0.7M360.4,46.8v0.7M378.2,49.8v0.7M406.3,51.9v0.7M257.4,49.1v0.7M401.9,48.3v0.7M195.8,49.1v0.7M351.0,47.5v0.7M214.6,49.7v0.7M213.1,50.9v0.7M266.3,51.0v0.7M382.2,46.5v0.7M403.1,49.6v0.7M363.0,48.4v0.7M341.1,50.5v0.7M243.3,48.7v0.7M285.8,48.4v0.7M405.4,48.4v0.7M261.4,48.9v0.7M297.9,47.4v0.7M222.8,46.9v0.7M340.2,48.7v0.7M225.4,47.9v0.7M217.8,45.6v0.7M269.3,43.4v0.7M268.4,48.2v0.7M239.8,52.4v0.7M350.0,47.2v0.7M252.1,48.8v0.7M208.5,49.6v0.7M203.0,46.0v0.7M312.7,48.0v0.7M271.3,51.3v0.7M333.3,48.3v0.7M310.0,45.0v0.7M403.6,47.1v0.7M380.5,47.7v0.7M261.8,46.0v0.7M283.3,50.1v0.7M276.1,47.7v0.7M281.4,52.8v0.7M194.9,54.0v0.7M323.6,49.5v0.7M324.3,47.4v0.7" stroke="#d84860" stroke-width="0.6" opacity="0.27"/>
<polyline points="193.8,48.21 194.3,48.79 194.8,48.59 195.3,48.76 195.8,49.03 196.3,47.70 196.9,48.65 197.4,48.40 197.9,48.33 198.4,48.04 198.9,48.08 199.4,47.95 199.9,47.91 200.4,49.84 200.9,49.41 201.4,48.51 202.0,48.90 202.5,47.98 203.0,47.01 203.5,47.52 204.0,48.58 204.5,49.27 205.0,48.48 205.5,47.96 206.0,48.37 206.5,47.97 207.1,47.75 207.6,48.38 208.1,48.29 208.6,48.06 209.1,48.03 209.6,48.00 210.1,48.63 210.6,49.25 211.1,48.39 211.6,49.70 212.2,47.63 212.7,48.65 213.2,47.88 213.7,48.41 214.2,48.55 214.7,48.80 215.2,49.11 215.7,48.20 216.2,47.83 216.7,48.40 217.3,48.66 217.8,48.13 218.3,48.98 218.8,49.40 219.3,47.74 219.8,48.69 220.3,49.04 220.8,47.47 221.3,48.61 221.8,48.38 222.3,47.74 222.9,49.21 223.4,48.62 223.9,48.24 224.4,48.74 224.9,48.84 225.4,48.91 225.9,48.81 226.4,48.72 226.9,47.87 227.4,48.27 228.0,48.57 228.5,47.02 229.0,49.64 229.5,48.30 230.0,47.93 230.5,47.52 231.0,48.63 231.5,48.52 232.0,48.19 232.5,48.28 233.1,48.02 233.6,48.10 234.1,48.45 234.6,48.15 235.1,48.86 235.6,48.42 236.1,48.57 236.6,48.72 237.1,49.18 237.6,48.82 238.2,48.62 238.7,48.41 239.2,48.07 239.7,48.32 240.2,48.87 240.7,48.62 241.2,48.29 241.7,47.79 242.2,47.68 242.7,48.67 243.2,49.05 243.8,48.70 244.3,47.76 244.8,48.39 245.3,48.62 245.8,48.01 246.3,48.69 246.8,48.39 247.3,48.05 247.8,47.83 248.3,48.93 248.9,48.69 249.4,48.02 249.9,47.96 250.4,48.98 250.9,48.82 251.4,48.34 251.9,49.35 252.4,48.34 252.9,47.93 253.4,49.09 254.0,48.40 254.5,48.69 255.0,48.52 255.5,47.96 256.0,47.86 256.5,48.40 257.0,49.25 257.5,47.96 258.0,49.23 258.5,48.62 259.1,47.90 259.6,48.64 260.1,48.80 260.6,48.02 261.1,47.36 261.6,48.69 262.1,47.91 262.6,48.74 263.1,47.48 263.6,48.42 264.2,48.07 264.7,47.71 265.2,48.37 265.7,48.59 266.2,48.20 266.7,47.87 267.2,48.61 267.7,47.56 268.2,48.79 268.7,48.76 269.2,49.40 269.8,48.97 270.3,48.69 270.8,48.64 271.3,48.51 271.8,47.79 272.3,49.28 272.8,48.78 273.3,48.35 273.8,47.89 274.3,49.29 274.9,48.78 275.4,47.87 275.9,48.86 276.4,49.51 276.9,48.49 277.4,48.71 277.9,48.28 278.4,48.16 278.9,49.07 279.4,50.15 280.0,48.56 280.5,48.43 281.0,48.92 281.5,48.34 282.0,48.89 282.5,48.94 283.0,47.96 283.5,47.93 284.0,48.46 284.5,48.94 285.1,48.65 285.6,49.16 286.1,47.76 286.6,48.76 287.1,48.17 287.6,48.55 288.1,48.67 288.6,47.98 289.1,48.38 289.6,47.88 290.1,48.64 290.7,48.05 291.2,48.24 291.7,48.62 292.2,48.15 292.7,49.11 293.2,48.16 293.7,48.95 294.2,48.65 294.7,47.95 295.2,48.38 295.8,48.05 296.3,48.31 296.8,48.36 297.3,49.47 297.8,48.28 298.3,49.34 298.8,48.74 299.3,47.80 299.8,47.27 300.3,48.86 300.9,47.44 301.4,48.88 301.9,49.05 302.4,48.71 302.9,48.39 303.4,48.37 303.9,48.64 304.4,48.34 304.9,48.21 305.4,48.30 306.0,49.12 306.5,48.17 307.0,48.70 307.5,47.89 308.0,48.12 308.5,47.77 309.0,48.39 309.5,48.86 310.0,48.66 310.5,48.24 311.1,48.83 311.6,48.32 312.1,48.70 312.6,48.65 313.1,48.79 313.6,47.18 314.1,47.81 314.6,48.91 315.1,48.44 315.6,49.69 316.1,48.37 316.7,48.21 317.2,49.30 317.7,48.80 318.2,49.51 318.7,48.77 319.2,48.39 319.7,48.89 320.2,48.08 320.7,48.26 321.2,48.20 321.8,48.38 322.3,48.91 322.8,48.24 323.3,48.67 323.8,48.23 324.3,48.97 324.8,47.03 325.3,48.39 325.8,48.59 326.3,47.93 326.9,49.04 327.4,48.62 327.9,49.18 328.4,49.01 328.9,48.84 329.4,48.42 329.9,47.92 330.4,48.38 330.9,48.26 331.4,48.63 332.0,48.25 332.5,50.12 333.0,47.65 333.5,49.12 334.0,48.25 334.5,48.37 335.0,48.99 335.5,48.50 336.0,47.86 336.5,48.72 337.0,48.40 337.6,47.41 338.1,48.61 338.6,47.94 339.1,48.10 339.6,48.76 340.1,48.66 340.6,48.35 341.1,49.65 341.6,48.72 342.1,48.17 342.7,48.63 343.2,48.44 343.7,47.33 344.2,47.66 344.7,47.76 345.2,49.60 345.7,48.40 346.2,48.35 346.7,48.20 347.2,49.02 347.8,48.51 348.3,49.41 348.8,48.92 349.3,49.37 349.8,48.44 350.3,48.70 350.8,48.27 351.3,48.41 351.8,47.58 352.3,48.19 352.9,48.00 353.4,48.15 353.9,49.15 354.4,48.64 354.9,49.15 355.4,48.96 355.9,48.99 356.4,49.03 356.9,48.18 357.4,48.93 358.0,48.33 358.5,48.22 359.0,49.13 359.5,49.65 360.0,47.98 360.5,49.42 361.0,48.94 361.5,48.05 362.0,48.64 362.5,48.70 363.0,48.70 363.6,48.31 364.1,47.82 364.6,48.52 365.1,48.96 365.6,48.92 366.1,48.85 366.6,49.08 367.1,47.97 367.6,48.48 368.1,48.68 368.7,49.03 369.2,48.58 369.7,48.77 370.2,48.57 370.7,49.61 371.2,47.34 371.7,48.49 372.2,49.81 372.7,48.62 373.2,47.53 373.8,48.57 374.3,47.74 374.8,48.14 375.3,48.62 375.8,49.41 376.3,48.75 376.8,48.85 377.3,49.04 377.8,48.61 378.3,48.05 378.9,48.45 379.4,48.68 379.9,48.35 380.4,48.15 380.9,48.31 381.4,47.70 381.9,47.96 382.4,48.45 382.9,48.31 383.4,48.52 383.9,49.24 384.5,48.66 385.0,48.48 385.5,47.88 386.0,47.93 386.5,48.70 387.0,48.04 387.5,48.73 388.0,47.93 388.5,48.57 389.0,48.46 389.6,49.03 390.1,48.29 390.6,48.30 391.1,48.63 391.6,48.53 392.1,49.39 392.6,48.36 393.1,48.22 393.6,48.33 394.1,48.75 394.7,48.62 395.2,48.87 395.7,47.77 396.2,49.81 396.7,49.47 397.2,48.48 397.7,47.86 398.2,48.58 398.7,48.72 399.2,47.32 399.8,48.51 400.3,47.72 400.8,48.74 401.3,49.23 401.8,49.05 402.3,47.70 402.8,49.23 403.3,48.98 403.8,48.31 404.3,48.77 404.9,49.30 405.4,48.32 405.9,48.49 406.4,48.20 406.9,49.11 407.4,47.36" fill="none" stroke="#d4465e" stroke-width="0.8" opacity="0.55"/>
<polyline points="193.80,75.15 194.51,74.73 195.23,75.06 195.94,74.62 196.66,74.74 197.37,74.80 198.09,75.04 198.80,74.62 199.52,75.00 200.23,74.79 200.94,75.12 201.66,74.85 202.37,74.98 203.09,74.87 203.80,75.21 204.52,74.84 205.23,74.90 205.94,75.24 206.66,74.91 207.37,75.02 208.09,74.77 208.80,74.93 209.52,74.51 210.23,74.92 210.95,74.79 211.66,74.64 212.37,74.65 213.09,75.10 213.80,74.97 214.52,74.64 215.23,75.21 215.95,74.78 216.66,74.84 217.37,74.94 218.09,74.70 218.80,74.62 219.52,74.77 220.23,75.10 220.95,75.06 221.66,74.63 222.38,75.11 223.09,74.91 223.80,74.99 224.52,74.91 225.23,74.97 225.95,74.73 226.66,74.74 227.38,74.78 228.09,74.84 228.80,75.01 229.52,74.69 230.23,75.18 230.95,74.79 231.66,74.80 232.38,75.02 233.09,74.98 233.81,74.84 234.52,74.71 235.23,74.73 235.95,74.62 236.66,75.10 237.38,75.09 238.09,75.22 238.81,74.99 239.52,74.96 240.23,75.03 240.95,75.06 241.66,74.86 242.38,74.96 243.09,75.27 243.81,74.61 244.52,74.66 245.24,74.73 245.95,75.03 246.66,75.11 247.38,74.84 248.09,75.02 248.81,74.89 249.52,74.95 250.24,74.81 250.95,74.90 251.66,74.90 252.38,75.10 253.09,75.29 253.81,74.59 254.52,74.99 255.24,74.90 255.95,75.07 256.67,75.08 257.38,75.04 258.09,75.04 258.81,74.74 259.52,74.60 260.24,75.19 260.95,75.11 261.67,74.73 262.38,75.12 263.09,75.02 263.81,74.47 264.52,75.06 265.24,74.73 265.95,75.10 266.67,74.78 267.38,74.77 268.10,74.63 268.81,74.86 269.52,75.08 270.24,74.78 270.95,74.58 271.67,75.27 272.38,75.22 273.10,75.02 273.81,74.81 274.53,74.69 275.24,74.62 275.95,75.00 276.67,75.13 277.38,74.72 278.10,74.90 278.81,74.85 279.53,74.86 280.24,74.99 280.95,75.26 281.67,74.79 282.38,75.05 283.10,75.09 283.81,74.85 284.53,74.87 285.24,74.67 285.96,75.09 286.67,74.81 287.38,74.79 288.10,74.91 288.81,74.75 289.53,74.72 290.24,74.85 290.96,75.16 291.67,74.86 292.38,74.99 293.10,74.65 293.81,74.56 294.53,75.22 295.24,74.83 295.96,74.63 296.67,74.88 297.39,75.01 298.10,74.60 298.81,74.75 299.53,74.95 300.24,74.74 300.96,75.04 301.67,75.07 302.39,74.98 303.10,74.83 303.81,74.89 304.53,74.79 305.24,74.88 305.96,74.96 306.67,74.85 307.39,75.07 308.10,75.35 308.82,74.80 309.53,74.96 310.24,75.04 310.96,75.01 311.67,74.86 312.39,74.82 313.10,75.07 313.82,75.01 314.53,74.99 315.24,74.76 315.96,75.01 316.67,75.04 317.39,74.87 318.10,75.01 318.82,75.28 319.53,74.57 320.25,75.01 320.96,74.70 321.67,74.66 322.39,74.86 323.10,74.99 323.82,74.91 324.53,74.70 325.25,74.65 325.96,74.80 326.67,74.90 327.39,74.76 328.10,74.64 328.82,75.21 329.53,74.75 330.25,74.87 330.96,74.80 331.68,74.80 332.39,74.91 333.10,74.85 333.82,75.01 334.53,74.69 335.25,74.64 335.96,75.24 336.68,74.89 337.39,75.03 338.11,75.11 338.82,75.00 339.53,74.91 340.25,74.63 340.96,74.62 341.68,75.07 342.39,75.02 343.11,75.00 343.82,74.61 344.53,74.53 345.25,74.72 345.96,74.69 346.68,74.93 347.39,74.72 348.11,75.18 348.82,74.79 349.54,74.80 350.25,75.05 350.96,74.96 351.68,74.74 352.39,75.04 353.11,75.24 353.82,74.69 354.54,74.86 355.25,74.71 355.96,74.56 356.68,75.01 357.39,75.02 358.11,75.07 358.82,74.97 359.54,74.55 360.25,74.90 360.97,74.78 361.68,74.69 362.39,74.71 363.11,75.03 363.82,74.85 364.54,75.24 365.25,74.98 365.97,74.57 366.68,75.06 367.39,75.12 368.11,74.91 368.82,74.69 369.54,75.21 370.25,74.67 370.97,74.89 371.68,74.57 372.40,74.68 373.11,74.60 373.82,75.09 374.54,75.11 375.25,74.83 375.97,74.66 376.68,74.89 377.40,74.97 378.11,74.63 378.82,74.70 379.54,74.88 380.25,75.02 380.97,74.91 381.68,74.98 382.40,74.68 383.11,74.46 383.83,74.95 384.54,74.74 385.25,74.88 385.97,74.83 386.68,74.98 387.40,74.76 388.11,75.15 388.83,74.91 389.54,74.99 390.25,75.01 390.97,75.08 391.68,74.97 392.40,74.59 393.11,74.79 393.83,75.23 394.54,74.98 395.26,75.00 395.97,74.98 396.68,74.79 397.40,74.78 398.11,74.79 398.83,75.10 399.54,74.96 400.26,75.21 400.97,74.99 401.68,75.23 402.40,74.98 403.11,74.69 403.83,75.21 404.54,74.96 405.26,75.11 405.97,74.94 406.69,74.84 407.40,74.93" fill="none" stroke="#5a54bc" stroke-width="1.15"/>
<rect x="193.3" y="92.6" width="214.30" height="7" fill="#fff" stroke="#bbb" stroke-width="0.5"/>
<rect x="193.30" y="92.60" width="1.50" height="7.00" fill="#999" />
<rect x="194.80" y="92.60" width="5.90" height="7.00" fill="#bbb" />
<rect x="202.50" y="92.60" width="12.50" height="7.00" fill="#000" />
<rect x="218.50" y="92.60" width="8.00" height="7.00" fill="#000" />
<rect x="237.00" y="92.60" width="5.00" height="7.00" fill="#888" />
<rect x="249.60" y="92.60" width="4.80" height="7.00" fill="#444" />
<rect x="258.80" y="92.60" width="9.70" height="7.00" fill="#333" />
<rect x="272.30" y="92.60" width="5.20" height="7.00" fill="#333" />
<rect x="279.40" y="92.60" width="5.40" height="7.00" fill="#222" />
<rect x="287.70" y="92.60" width="4.30" height="7.00" fill="#888" />
<rect x="292.00" y="92.60" width="7.00" height="7.00" fill="#aaa" />
<rect x="302.00" y="92.60" width="12.60" height="7.00" fill="#000" />
<rect x="317.50" y="92.60" width="3.50" height="7.00" fill="#555" />
<rect x="322.00" y="92.60" width="7.00" height="7.00" fill="#666" />
<rect x="337.00" y="92.60" width="2.00" height="7.00" fill="#666" />
<rect x="339.60" y="92.60" width="8.40" height="7.00" fill="#333" />
<rect x="351.00" y="92.60" width="3.00" height="7.00" fill="#222" />
<rect x="358.50" y="92.60" width="3.20" height="7.00" fill="#222" />
<rect x="369.00" y="92.60" width="7.00" height="7.00" fill="#888" />
<rect x="384.00" y="92.60" width="6.00" height="7.00" fill="#222" />
<rect x="396.00" y="92.60" width="5.00" height="7.00" fill="#aaa" />
<rect x="193.5" y="101.8" width="213.9" height="3.2" fill="#1f7424"/>
<path d="M195.9,103.4h0.50M198.7,103.4h0.39M201.2,103.4h0.46M203.1,103.4h0.55M206.9,103.4h0.53M210.5,103.4h0.37M214.1,103.4h0.27M216.4,103.4h0.30M218.7,103.4h0.49M221.7,103.4h0.41M223.9,103.4h0.32M226.1,103.4h0.35M227.9,103.4h0.51M230.5,103.4h0.40M232.4,103.4h0.50M234.3,103.4h0.34M236.9,103.4h0.50M240.5,103.4h0.51M244.1,103.4h0.57M247.3,103.4h0.50M248.9,103.4h0.32M250.3,103.4h0.55M253.4,103.4h0.47M255.4,103.4h0.37M257.2,103.4h0.47M260.8,103.4h0.36M262.3,103.4h0.31M264.4,103.4h0.56M267.7,103.4h0.41M269.3,103.4h0.29M271.0,103.4h0.52M273.5,103.4h0.60M277.1,103.4h0.53M279.7,103.4h0.54M281.5,103.4h0.29M284.1,103.4h0.43M285.9,103.4h0.34M287.3,103.4h0.57M290.5,103.4h0.58M294.2,103.4h0.40M297.2,103.4h0.38M300.4,103.4h0.54M302.2,103.4h0.25M303.9,103.4h0.45M306.2,103.4h0.25M309.3,103.4h0.53M311.9,103.4h0.27M315.1,103.4h0.44M316.7,103.4h0.36M319.4,103.4h0.56M322.0,103.4h0.47M324.0,103.4h0.34M327.3,103.4h0.38M328.9,103.4h0.46M330.6,103.4h0.32M333.0,103.4h0.45M335.8,103.4h0.50M338.3,103.4h0.27M341.2,103.4h0.27M343.5,103.4h0.39M346.3,103.4h0.50M348.4,103.4h0.48M351.4,103.4h0.42M352.8,103.4h1.50M355.9,103.4h0.57M357.6,103.4h1.59M360.3,103.4h0.93M363.2,103.4h1.41M366.2,103.4h1.32M368.4,103.4h0.60M371.2,103.4h1.38M373.4,103.4h0.55M375.1,103.4h1.52M377.7,103.4h1.24M381.1,103.4h1.20M384.4,103.4h0.79M386.2,103.4h0.52M388.6,103.4h0.61M391.3,103.4h1.28M393.7,103.4h1.39M396.1,103.4h1.06M398.1,103.4h1.37M401.5,103.4h1.51M403.8,103.4h1.44M209.8,103.4h1.4" stroke="#b9d9b9" stroke-width="3.2"/>
<rect x="193.8" y="118" width="156.2" height="3.4" fill="#e6e6dc"/>
<polyline points="193.80,119.24 194.45,119.99 195.11,119.18 195.76,119.45 196.41,120.16 197.07,120.09 197.72,119.56 198.37,119.87 199.03,119.95 199.68,120.04 200.34,120.00 200.99,119.88 201.64,120.48 202.30,119.12 202.95,119.73 203.60,120.07 204.26,119.78 204.91,119.70 205.56,119.76 206.22,120.11 206.87,120.68 207.52,119.90 208.18,119.85 208.83,120.20 209.49,119.87 210.14,118.94 210.79,120.15 211.45,119.79 212.10,119.69 212.75,120.35 213.41,120.02 214.06,119.69 214.71,118.80 215.37,119.05 216.02,120.01 216.67,119.94 217.33,120.24 217.98,120.12 218.64,119.74 219.29,119.30 219.94,119.40 220.60,119.92 221.25,119.37 221.90,120.42 222.56,119.27 223.21,119.02 223.86,119.89 224.52,119.02 225.17,120.89 225.82,119.45 226.48,119.97 227.13,119.87 227.78,119.55 228.44,119.03 229.09,118.98 229.75,120.48 230.40,120.56 231.05,121.19 231.71,119.20 232.36,120.31 233.01,119.99 233.67,120.46 234.32,119.72 234.97,120.40 235.63,120.49 236.28,120.33 236.93,120.80 237.59,119.90 238.24,120.85 238.90,119.61 239.55,120.92 240.20,118.49 240.86,120.01 241.51,119.56 242.16,120.00 242.82,120.57 243.47,120.39 244.12,120.05 244.78,120.94 245.43,119.19 246.08,119.55 246.74,120.83 247.39,120.18 248.05,118.86 248.70,120.19 249.35,119.35 250.01,120.81 250.66,120.63 251.31,119.70 251.97,120.71 252.62,119.54 253.27,120.51 253.93,120.32 254.58,119.93 255.23,119.22 255.89,119.85 256.54,118.74 257.19,119.69 257.85,118.98 258.50,120.67 259.16,119.47 259.81,118.66 260.46,120.32 261.12,120.20 261.77,119.72 262.42,121.16 263.08,120.43 263.73,120.04 264.38,119.65 265.04,118.37 265.69,120.26 266.34,120.53 267.00,119.67 267.65,119.22 268.31,119.98 268.96,119.08 269.61,120.00 270.27,120.42 270.92,120.83 271.57,120.15 272.23,120.11 272.88,120.41 273.53,120.77 274.19,119.82 274.84,119.32 275.49,119.56 276.15,119.31 276.80,119.51 277.46,119.93 278.11,120.19 278.76,120.09 279.42,120.04 280.07,119.80 280.72,120.23 281.38,120.49 282.03,120.42 282.68,120.82 283.34,119.84 283.99,119.86 284.64,120.93 285.30,120.11 285.95,120.23 286.61,119.82 287.26,120.53 287.91,119.78 288.57,119.45 289.22,119.97 289.87,119.76 290.53,120.46 291.18,119.79 291.83,120.07 292.49,119.88 293.14,120.19 293.79,119.65 294.45,120.61 295.10,119.22 295.75,119.79 296.41,119.61 297.06,120.36 297.72,120.02 298.37,120.27 299.02,119.82 299.68,119.61 300.33,119.38 300.98,119.82 301.64,119.71 302.29,120.15 302.94,120.20 303.60,120.54 304.25,119.94 304.90,119.59 305.56,119.42 306.21,120.03 306.87,120.20 307.52,121.07 308.17,120.10 308.83,120.97 309.48,121.03 310.13,119.42 310.79,120.67 311.44,120.63 312.09,120.74 312.75,119.99 313.40,120.53 314.05,119.74 314.71,119.96 315.36,120.01 316.02,120.98 316.67,119.88 317.32,120.53 317.98,120.04 318.63,119.61 319.28,120.13 319.94,120.36 320.59,119.61 321.24,120.35 321.90,119.61 322.55,119.52 323.20,120.12 323.86,119.87 324.51,119.46 325.16,119.10 325.82,120.01 326.47,120.13 327.13,119.75 327.78,120.10 328.43,119.16 329.09,120.22 329.74,120.23 330.39,120.15 331.05,119.66 331.70,120.04 332.35,120.07 333.01,120.59 333.66,120.15 334.31,120.14 334.97,119.60 335.62,120.47 336.28,120.64 336.93,119.73 337.58,120.35 338.24,120.17 338.89,119.97 339.54,119.29 340.20,120.97 340.85,118.97 341.50,120.17 342.16,119.79 342.81,120.63 343.46,119.77 344.12,120.02 344.77,120.34 345.43,120.25 346.08,119.71 346.73,120.37 347.39,120.22 348.04,120.54 348.69,119.72 349.35,119.97 350.00,119.79" fill="none" stroke="#a9b5a2" stroke-width="1.2" opacity="0.95"/>
<polyline points="193.80,118.58 194.45,119.13 195.11,119.20 195.76,119.71 196.41,118.84 197.07,119.19 197.72,119.57 198.37,118.94 199.03,119.03 199.68,119.07 200.34,118.66 200.99,118.51 201.64,119.56 202.30,119.09 202.95,118.96 203.60,118.38 204.26,119.06 204.91,119.58 205.56,118.43 206.22,118.56 206.87,119.55 207.52,119.71 208.18,119.77 208.83,118.72 209.49,119.30 210.14,118.63 210.79,119.26 211.45,118.82 212.10,119.10 212.75,119.67 213.41,119.17 214.06,118.88 214.71,119.03 215.37,119.13 216.02,118.74 216.67,119.10 217.33,119.30 217.98,119.78 218.64,117.97 219.29,118.41 219.94,118.38 220.60,119.44 221.25,120.21 221.90,119.10 222.56,119.06 223.21,119.57 223.86,117.79 224.52,118.91 225.17,117.45 225.82,119.08 226.48,118.75 227.13,118.76 227.78,119.17 228.44,118.71 229.09,119.55 229.75,119.00 230.40,119.19 231.05,120.26 231.71,118.78 232.36,119.46 233.01,118.59 233.67,119.62 234.32,119.48 234.97,119.07 235.63,119.49 236.28,119.80 236.93,119.68 237.59,119.00 238.24,118.97 238.90,119.55 239.55,118.27 240.20,118.70 240.86,119.24 241.51,119.28 242.16,119.92 242.82,119.87 243.47,119.16 244.12,119.22 244.78,118.35 245.43,118.91 246.08,119.13 246.74,118.89 247.39,119.03 248.05,119.30 248.70,118.53 249.35,118.72 250.01,118.12 250.66,119.57 251.31,118.48 251.97,118.16 252.62,119.38 253.27,118.89 253.93,119.48 254.58,118.82 255.23,120.05 255.89,119.35 256.54,119.07 257.19,119.06 257.85,118.90 258.50,119.40 259.16,119.99 259.81,118.79 260.46,118.46 261.12,119.30 261.77,119.53 262.42,118.26 263.08,118.66 263.73,118.51 264.38,119.28 265.04,119.25 265.69,118.64 266.34,118.44 267.00,119.34 267.65,117.98 268.31,119.32 268.96,118.92 269.61,119.95 270.27,119.49 270.92,118.71 271.57,118.86 272.23,118.86 272.88,118.64 273.53,119.04 274.19,119.48 274.84,118.26 275.49,118.89 276.15,119.74 276.80,119.37 277.46,118.60 278.11,118.60 278.76,118.58 279.42,118.21 280.07,119.57 280.72,119.03 281.38,118.66 282.03,118.29 282.68,118.81 283.34,118.75 283.99,119.85 284.64,118.77 285.30,119.06 285.95,119.53 286.61,119.33 287.26,118.91 287.91,117.93 288.57,119.69 289.22,119.29 289.87,118.79 290.53,118.96 291.18,118.53 291.83,118.56 292.49,118.27 293.14,119.25 293.79,119.25 294.45,119.09 295.10,119.38 295.75,119.26 296.41,119.06 297.06,118.57 297.72,119.29 298.37,119.58 299.02,119.31 299.68,119.61 300.33,118.77 300.98,118.52 301.64,119.61 302.29,118.71 302.94,119.12 303.60,118.91 304.25,119.01 304.90,118.87 305.56,118.74 306.21,118.12 306.87,119.94 307.52,119.10 308.17,118.06 308.83,118.55 309.48,118.45 310.13,118.64 310.79,117.75 311.44,119.28 312.09,119.80 312.75,118.88 313.40,119.36 314.05,119.29 314.71,118.39 315.36,119.60 316.02,118.17 316.67,118.72 317.32,118.82 317.98,119.62 318.63,119.06 319.28,118.94 319.94,118.61 320.59,119.04 321.24,119.02 321.90,119.36 322.55,119.68 323.20,119.36 323.86,119.01 324.51,118.93 325.16,119.78 325.82,119.10 326.47,118.99 327.13,119.88 327.78,119.77 328.43,119.28 329.09,118.95 329.74,118.69 330.39,119.52 331.05,118.78 331.70,119.47 332.35,118.62 333.01,119.05 333.66,119.20 334.31,119.07 334.97,119.11 335.62,119.19 336.28,118.45 336.93,118.46 337.58,118.93 338.24,119.88 338.89,118.94 339.54,118.55 340.20,118.68 340.85,119.02 341.50,119.58 342.16,118.72 342.81,119.27 343.46,119.09 344.12,118.83 344.77,118.54 345.43,118.93 346.08,118.65 346.73,119.26 347.39,118.14 348.04,119.55 348.69,119.37 349.35,119.28 350.00,119.73" fill="none" stroke="#d4a8a0" stroke-width="0.6" opacity="0.8"/>
<polyline points="193.80,120.84 194.58,119.93 195.37,120.62 196.15,120.78 196.94,120.33 197.72,120.16 198.51,120.77 199.29,120.80 200.08,120.43 200.86,120.51 201.65,120.40 202.43,120.38 203.22,120.58 204.00,121.02 204.79,119.97 205.57,120.47 206.36,121.23 207.14,120.72 207.93,120.66 208.71,120.93 209.50,120.21 210.28,120.13 211.07,119.95 211.85,120.03 212.64,120.70 213.42,120.93 214.21,120.44 214.99,120.33 215.78,120.76 216.56,120.84 217.35,120.70 218.13,119.86 218.92,120.39 219.70,119.61 220.49,120.69 221.27,120.27 222.06,120.34 222.84,121.19 223.63,121.12 224.41,120.79 225.20,120.71 225.98,120.67 226.77,120.37 227.55,120.58 228.34,121.34 229.12,120.26 229.91,120.34 230.69,120.66 231.48,120.95 232.26,120.92 233.05,120.22 233.83,120.55 234.62,120.50 235.40,120.12 236.19,120.63 236.97,120.41 237.76,120.96 238.54,120.77 239.33,120.30 240.11,120.63 240.90,120.46 241.68,120.35 242.47,120.41 243.25,121.01 244.04,120.44 244.82,119.93 245.61,120.30 246.39,120.91 247.17,121.44 247.96,120.19 248.74,120.46 249.53,120.47 250.31,120.05 251.10,120.76 251.88,120.58 252.67,120.71 253.45,121.47 254.24,120.50 255.02,120.91 255.81,120.92 256.59,120.35 257.38,120.37 258.16,121.21 258.95,120.88 259.73,120.66 260.52,120.17 261.30,120.94 262.09,120.81 262.87,121.45 263.66,121.17 264.44,120.91 265.23,120.70 266.01,120.62 266.80,120.39 267.58,120.72 268.37,120.70 269.15,120.85 269.94,121.02 270.72,120.72 271.51,120.39 272.29,120.91 273.08,121.20 273.86,120.28 274.65,120.76 275.43,120.81 276.22,120.81 277.00,120.80 277.79,120.56 278.57,120.56 279.36,121.26 280.14,121.27 280.93,120.06 281.71,119.61 282.50,120.77 283.28,120.34 284.07,120.40 284.85,119.98 285.64,120.74 286.42,120.58 287.21,120.39 287.99,120.95 288.78,121.55 289.56,121.17 290.35,121.06 291.13,120.44 291.92,120.86 292.70,120.59 293.49,121.05 294.27,120.83 295.06,120.59 295.84,120.81 296.63,120.32 297.41,120.91 298.19,121.18 298.98,120.46 299.76,120.82 300.55,119.95 301.33,120.96 302.12,120.94 302.90,120.20 303.69,121.28 304.47,120.64 305.26,119.93 306.04,120.07 306.83,120.94 307.61,120.49 308.40,121.03 309.18,120.00 309.97,120.56 310.75,120.98 311.54,120.34 312.32,120.86 313.11,120.46 313.89,120.73 314.68,120.73 315.46,121.47 316.25,120.12 317.03,120.90 317.82,121.11 318.60,120.16 319.39,120.63 320.17,121.50 320.96,121.01 321.74,119.45 322.53,120.51 323.31,119.94 324.10,120.72 324.88,120.32 325.67,120.38 326.45,120.27 327.24,120.71 328.02,120.42 328.81,120.25 329.59,120.51 330.38,120.76 331.16,120.27 331.95,121.03 332.73,119.95 333.52,120.76 334.30,120.45 335.09,121.21 335.87,120.35 336.66,120.34 337.44,120.08 338.23,121.37 339.01,120.84 339.80,120.18 340.58,120.47 341.37,120.23 342.15,121.19 342.94,120.76 343.72,119.81 344.51,120.68 345.29,120.96 346.08,120.60 346.86,120.78 347.65,120.56 348.43,120.68 349.22,120.68 350.00,120.33" fill="none" stroke="#b8b0a4" stroke-width="0.6" opacity="0.8"/>
<path d="M224.6,120 L225.1,113.8 L225.7,120 M275.6,119.6 L276.2,116.4 L276.8,119.6 M282,119.6 L282.5,117 L283,119.6 M349.3,120 L350,114.6" stroke="#b0a8a0" stroke-width="0.6" fill="none"/>
<polyline points="350.50,117.02 351.02,116.96 351.54,116.89 352.07,116.67 352.59,116.56 353.11,116.98 353.63,117.18 354.15,116.08 354.68,116.72 355.20,117.36 355.72,117.21 356.24,116.66 356.76,117.36 357.29,116.56 357.81,116.63 358.33,117.56 358.85,116.75 359.37,116.83 359.90,116.34 360.42,116.56 360.94,116.50 361.46,116.85 361.98,116.28 362.51,117.26 363.03,116.78 363.55,116.69 364.07,116.68 364.59,117.15 365.12,117.42 365.64,116.76 366.16,117.45 366.68,117.45 367.20,117.36 367.73,117.00 368.25,116.39 368.77,117.13 369.29,116.76 369.81,116.97 370.34,116.26 370.86,116.80 371.38,116.98 371.90,116.58 372.42,117.00 372.95,117.47 373.47,116.98 373.99,116.67 374.51,117.71 375.03,116.17 375.56,116.59 376.08,117.04 376.60,116.70 377.12,116.12 377.64,116.99 378.17,117.18 378.69,116.63 379.21,117.40 379.73,117.07 380.26,117.31 380.78,116.38 381.30,116.90 381.82,117.45 382.34,117.59 382.87,117.35 383.39,116.90 383.91,116.96 384.43,116.69 384.95,117.27 385.48,116.66 386.00,116.94 386.52,116.20 387.04,116.39 387.56,117.51 388.09,116.92 388.61,116.97 389.13,116.15 389.65,116.89 390.17,117.61 390.70,116.39 391.22,116.09 391.74,116.84 392.26,116.72 392.78,116.83 393.31,116.47 393.83,116.44 394.35,116.48 394.87,117.12 395.39,116.88 395.92,117.18 396.44,116.53 396.96,117.10 397.48,116.75 398.00,116.93 398.53,117.22 399.05,116.91 399.57,116.78 400.09,116.33 400.61,116.92 401.14,117.17 401.66,116.68 402.18,116.88 402.70,116.30 403.22,116.44 403.75,117.04 404.27,117.34 404.79,116.79 405.31,116.33 405.83,116.77 406.36,116.36 406.88,116.81 407.40,117.56" fill="none" stroke="#c27474" stroke-width="0.6" opacity="0.95"/>
<line x1="350.50" y1="120.10" x2="407.40" y2="120.10" stroke="#ead2d2" stroke-width="0.5" />
<polyline points="350.50,123.60 351.02,123.45 351.54,123.86 352.07,123.37 352.59,123.61 353.11,123.57 353.63,123.65 354.15,123.00 354.68,123.74 355.20,123.80 355.72,122.72 356.24,122.57 356.76,123.19 357.29,124.01 357.81,123.51 358.33,123.73 358.85,123.69 359.37,123.81 359.90,123.28 360.42,123.30 360.94,123.63 361.46,123.71 361.98,123.70 362.51,123.62 363.03,123.33 363.55,123.88 364.07,123.66 364.59,123.87 365.12,122.63 365.64,123.85 366.16,122.66 366.68,123.57 367.20,123.27 367.73,123.54 368.25,123.34 368.77,123.39 369.29,123.57 369.81,123.62 370.34,123.22 370.86,122.63 371.38,123.23 371.90,123.69 372.42,123.21 372.95,123.65 373.47,123.37 373.99,123.17 374.51,123.90 375.03,124.07 375.56,123.46 376.08,123.48 376.60,123.83 377.12,123.04 377.64,123.20 378.17,123.89 378.69,123.81 379.21,123.33 379.73,123.23 380.26,123.62 380.78,123.01 381.30,123.33 381.82,123.42 382.34,122.65 382.87,123.70 383.39,123.76 383.91,123.87 384.43,123.00 384.95,123.06 385.48,123.22 386.00,123.05 386.52,124.21 387.04,123.16 387.56,123.39 388.09,123.57 388.61,123.66 389.13,124.00 389.65,123.12 390.17,123.80 390.70,123.55 391.22,123.09 391.74,123.55 392.26,123.01 392.78,124.06 393.31,123.25 393.83,123.85 394.35,123.95 394.87,123.29 395.39,123.19 395.92,123.55 396.44,123.14 396.96,123.81 397.48,123.56 398.00,123.23 398.53,123.26 399.05,123.75 399.57,123.00 400.09,124.09 400.61,123.23 401.14,123.43 401.66,123.18 402.18,124.06 402.70,123.79 403.22,123.95 403.75,123.73 404.27,123.53 404.79,124.09 405.31,123.73 405.83,123.65 406.36,123.70 406.88,123.76 407.40,123.60" fill="none" stroke="#7eae7e" stroke-width="0.75" opacity="0.95"/>
<line x1="350.00" y1="117.60" x2="350.00" y2="123.20" stroke="#999" stroke-width="0.4" />
<text x="387.00" y="82.00" font-size="5.6" text-anchor="middle" fill="#222" stroke="#222" stroke-width="0.22" >EZH2</text>
<path d="M393,85.5 L393,89.5" stroke="#d01028" stroke-width="0.9"/><path d="M391.3,89 L394.7,89 L393,92 Z" fill="#d01028"/>
<path d="M348.8,135 L359.5,129.2" stroke="#c80a22" stroke-width="1.25"/><path d="M362.6,127.7 L357.5,128.0 L359.9,132.3 Z" fill="#c80a22"/>
<text x="7.00" y="167.30" font-size="11.8" text-anchor="start" font-weight="bold" fill="#000" >C</text>
<rect x="17.3" y="188.4" width="26.2" height="47.8" fill="none" stroke="#d6493a" stroke-width="0.9"/>
<path d="M20.8,219.5 L23.8,227.5 M39.6,219.5 L36.6,227.5" stroke="#b6cbd4" stroke-width="0.9" opacity="0.8" fill="none"/>
<ellipse cx="30.2" cy="192.5" rx="2.5" ry="3.1" fill="#e35f12" stroke="#b8340c" stroke-width="0.45"/>
<path d="M29,195.3 L28.9,196.9 C26.5,197.3 24,197.4 23,198.8 C22,200.2 21.6,203 21.1,206 L19.4,214.6 L21.4,215.2 L23.4,208 L24.4,203.5 L24.9,208.5 C25,211.5 24.3,213.5 24.6,216.5 L25.2,226 L25.8,233.8 L25,235.2 L29,235.2 L29.2,226 L29.8,220 L30.6,220 L31.2,226 L31.4,235.2 L35.4,235.2 L34.6,233.8 L35.2,226 L35.8,216.5 C36.1,213.5 35.4,211.5 35.5,208.5 L36,203.5 L37,208 L39,215.2 L41,214.6 L39.3,206 C38.8,203 38.4,200.2 37.4,198.8 C36.4,197.4 33.9,197.3 31.5,196.9 L31.4,195.3 Z" fill="#e35f12" stroke="#b8340c" stroke-width="0.55"/>
<path d="M27,200 C28.5,201.5 32,201.5 33.4,200 M27.5,211.5 C29,212.5 31.5,212.5 33,211.5 M30.2,203 L30.2,211" stroke="#c24c0c" stroke-width="0.3" fill="none" opacity="0.8"/>
<g fill="#3c1408" opacity="0.9"><circle cx="34.2" cy="202.2" r="1.2"/><circle cx="29.4" cy="209.2" r="1.4"/><circle cx="26.4" cy="206.8" r="0.7"/><circle cx="27.8" cy="216.4" r="1.4"/><circle cx="31" cy="218.6" r="1"/><circle cx="33.4" cy="222.6" r="1.2"/></g>
<g fill="#4a1c10"><circle cx="20.1" cy="216.6" r="1.7"/><circle cx="40.4" cy="216.6" r="1.7"/></g>
<path d="M46,201.6 L54.8,201.6" stroke="#111" stroke-width="0.8"/><path d="M54.3,200.1 L57.3,201.6 L54.3,203.1 Z" fill="#111"/>
<path d="M46,225.4 L54.8,225.4" stroke="#111" stroke-width="0.8"/><path d="M54.3,223.9 L57.3,225.4 L54.3,226.9 Z" fill="#111"/>
<text x="69.50" y="192.70" font-size="5.3" text-anchor="middle" fill="#1e1e1e" stroke="#1e1e1e" stroke-width="0.22" >CD34+</text>
<defs><linearGradient id="cdg" gradientUnits="userSpaceOnUse" x1="61" y1="0" x2="79" y2="0"><stop offset="0" stop-color="#dc3a3a"/><stop offset="0.45" stop-color="#ea7070"/><stop offset="1" stop-color="#f6c4c4"/></linearGradient></defs>
<g fill="url(#cdg)" stroke="#b02a2a" stroke-width="0.45">
<ellipse cx="65.2" cy="197.0" rx="3.0" ry="2.3"/>
<ellipse cx="70.4" cy="196.6" rx="3.0" ry="2.3"/>
<ellipse cx="75.0" cy="197.8" rx="3.0" ry="2.3"/>
<ellipse cx="63.9" cy="201.4" rx="3.0" ry="2.3"/>
<ellipse cx="69.0" cy="201.2" rx="3.0" ry="2.3"/>
<ellipse cx="74.0" cy="201.6" rx="3.0" ry="2.3"/>
<ellipse cx="77.0" cy="204.2" rx="3.0" ry="2.3"/>
<ellipse cx="65.2" cy="205.4" rx="3.0" ry="2.3"/>
<ellipse cx="70.2" cy="205.6" rx="3.0" ry="2.3"/>
<ellipse cx="74.4" cy="205.6" rx="3.0" ry="2.3"/>
</g>
<g stroke="#3a2418" stroke-width="0.6" fill="none"><path d="M57.2,220.2 L62,217.8 M79.2,216.4 L83,217.8 M71.5,223.5 L76,227.6 M66.5,223 L64.6,227 M72,214 L69.6,212.4 M60,216 L62.5,216.8"/></g>
<path d="M76,219.8 L82.5,222.2 M73,224.5 L77.5,227.6" stroke="#c4d2de" stroke-width="0.8" fill="none"/>
<g fill="#a07a62" stroke="#4e3222" stroke-width="0.55" opacity="0.95" filter="url(#bl)">
<path d="M59.5,218.6 C60.5,215.2 64,214.3 67.5,214.8 C69.5,215.1 70.6,216.8 70.2,218.6 C69.5,220.4 66.5,220.6 63.5,220.2 C61.8,220 60.3,219.6 59.5,218.6 Z"/>
<path d="M70.4,215.6 C71.6,213 75,212.4 78.2,213.2 C80.5,213.9 81.6,215.5 81,217.2 C80.2,219 77,219.2 74.5,218.9 C72.4,218.6 70.8,217.4 70.4,215.6 Z"/>
<path d="M63.8,221.4 C64.5,218.6 67.8,218 70.8,218.8 C73.2,219.5 74.8,221.2 74.2,223.2 C73.4,225 70.2,225.2 67.6,224.6 C65.4,224.1 63.9,223 63.8,221.4 Z"/>
</g>
<g fill="#2a1408"><ellipse cx="64.8" cy="217.3" rx="1.7" ry="1.1"/><ellipse cx="75.8" cy="215.8" rx="1.7" ry="1.1"/><ellipse cx="69" cy="221.6" rx="1.7" ry="1.1"/></g>
<text x="71.30" y="236.30" font-size="5.4" text-anchor="middle" fill="#1e1e1e" stroke="#1e1e1e" stroke-width="0.22" >MSCs</text>
<path d="M79.5,206.8 L91,210.6 M80.2,217.6 L91,210.6 M82.2,219.8 L91,210.6" stroke="#222" stroke-width="0.55" fill="none"/><path d="M90.2,209 L93.7,210.6 L90.2,212.2 Z" fill="#111"/>
<path d="M91.8,200.4 L93.4,198.9 L97.4,203.6 L99.4,206.5 L96.4,205.0 Z" fill="#8a8a8a" stroke="#222" stroke-width="0.55"/><path d="M92.6,199.2 L91.6,198.2" stroke="#222" stroke-width="0.6"/>
<text x="106.00" y="204.50" font-size="5" text-anchor="middle" fill="#222" stroke="#222" stroke-width="0.22" >I.F</text>
<path d="M97.4,213.6 C97,209 100.5,205 105.5,204.8 C108.5,204.7 111,205.3 112.6,206.2 L114,205 C115.5,204.4 117.4,205 117.3,206.6 L116.8,208.2 L120.2,210.6 L117.4,212.2 L114.9,213.4 C110,214.2 104.5,214 101.2,213.8 C99.8,213.7 98.4,213.8 97.4,213.6 Z" fill="#fff" stroke="#222" stroke-width="0.75"/>
<path d="M97.4,213.6 C95.4,215.6 96.4,218 99.6,217.8 C103.4,217.6 107.6,216.8 111.2,214.4" fill="none" stroke="#222" stroke-width="0.75"/>
<path d="M102,213.9 L104.2,214.9 M106.5,213.9 L108.6,214.9 M111.5,213.6 L113.4,214.7" stroke="#222" stroke-width="0.7"/>
<text x="106.80" y="224.40" font-size="5.4" text-anchor="middle" fill="#1e1e1e" stroke="#1e1e1e" stroke-width="0.22" >NSGS</text>
<text x="136.50" y="208.00" font-size="5.6" text-anchor="middle" fill="#222" stroke="#222" stroke-width="0.22" >14 Weeks</text>
<path d="M124.8,211.7 L146,211.7" stroke="#222" stroke-width="0.75"/><path d="M144.6,209.8 L148.2,211.7 L144.6,213.6 L145.4,211.7 Z" fill="#111"/>
<rect x="162.8" y="168" width="78" height="75.8" fill="#fff" stroke="#6a6a6a" stroke-width="0.8"/>
<defs>
<filter id="bl" x="-10%" y="-10%" width="120%" height="120%"><feGaussianBlur stdDeviation="0.7"/></filter>
<filter id="bl2" x="-30%" y="-30%" width="160%" height="160%"><feGaussianBlur stdDeviation="1.2"/></filter>
<radialGradient id="gHot" cx="0.44" cy="0.55" r="0.5"><stop offset="0" stop-color="#e00000"/><stop offset="0.13" stop-color="#f02800"/><stop offset="0.26" stop-color="#ffd800"/><stop offset="0.45" stop-color="#70e050"/><stop offset="0.7" stop-color="#10c8f0"/><stop offset="1" stop-color="#1060ff" stop-opacity="0"/></radialGradient>
<radialGradient id="gCy" cx="0.5" cy="0.5" r="0.5"><stop offset="0" stop-color="#50ffff"/><stop offset="0.3" stop-color="#20e0ff"/><stop offset="0.65" stop-color="#0070ff"/><stop offset="1" stop-color="#0030ff" stop-opacity="0"/></radialGradient>
<radialGradient id="gMid" cx="0.5" cy="0.5" r="0.5"><stop offset="0" stop-color="#0a40ff"/><stop offset="0.6" stop-color="#0a58ff" stop-opacity="0.6"/><stop offset="1" stop-color="#0a58ff" stop-opacity="0"/></radialGradient>
</defs>
<path filter="url(#bl)" d="M163.3,243.5 L163.3,232 C166,230 169.5,228 173,226.6 C178,224.8 182,223 186,221.8 C190,220.6 194,219.6 198,218.8 C201,218.2 203.5,217.6 205.5,217.4 C208.5,217.2 211,218.5 212,222 L212.5,238 C211,240.5 208,240.2 206.5,239.8 C199,241.2 192,242.3 186,242.8 C178,243.4 170,243.6 163.3,243.5 Z" fill="#1a2ef2"/>
<ellipse filter="url(#bl)" cx="215.6" cy="227.8" rx="8" ry="13.2" transform="rotate(22 215.6 227.8)" fill="#1a2ef2"/>

<path d="M207.3,217.2h0.6M217.7,215.5h0.6M196.5,221.1h0.6M169.3,230.3h0.6M189.6,221.1h0.6M208.1,217.6h0.6M186.8,221.7h0.6M215.5,215.0h0.6M199.2,220.3h0.6M166.2,228.6h0.6M171.3,226.7h0.6M205.8,216.9h0.6M170.6,227.4h0.6M174.7,227.5h0.6M203.7,218.8h0.6M185.3,225.1h0.6M189.6,221.7h0.6M178.9,224.8h0.6M221.5,217.5h0.6M205.6,215.5h0.6M174.6,226.0h0.6M184.7,224.5h0.6M167.5,229.7h0.6M204.2,215.6h0.6M189.9,222.9h0.6M198.0,219.1h0.6M216.0,214.4h0.6M183.9,223.7h0.6M219.7,215.8h0.6M218.0,214.3h0.6M172.4,226.9h0.6M186.6,223.7h0.6M164.3,231.6h0.6M210.4,218.2h0.6M164.3,231.6h0.6M188.4,223.0h0.6M197.6,220.1h0.6M188.1,224.0h0.6M220.4,216.5h0.6M200.3,217.8h0.6M186.2,222.5h0.6M217.3,214.9h0.6M210.5,219.0h0.6M222.5,217.4h0.6M182.8,225.2h0.6M179.5,225.9h0.6M173.3,228.7h0.6M192.8,220.2h0.6M218.5,212.9h0.6M218.9,215.2h0.6M172.8,228.6h0.6M197.8,220.6h0.6M198.6,218.8h0.6M219.1,213.1h0.6M209.8,217.6h0.6M180.3,224.0h0.6M215.4,214.1h0.6M206.9,215.7h0.6M207.1,217.0h0.6M169.8,228.8h0.6M206.6,215.6h0.6M202.6,216.9h0.6M185.9,224.7h0.6M219.6,216.3h0.6M189.2,222.4h0.6M211.7,217.5h0.6M190.9,222.8h0.6M187.7,224.2h0.6M191.9,220.1h0.6M208.2,215.4h0.6M204.1,215.7h0.6M222.3,216.8h0.6M207.7,215.3h0.6M201.6,217.6h0.6M178.7,226.8h0.6M166.0,230.0h0.6M169.1,230.1h0.6M216.7,212.5h0.6M191.4,221.3h0.6M206.4,217.2h0.6M184.3,225.3h0.6M174.9,225.9h0.6M212.1,215.1h0.6M175.0,227.0h0.6M183.8,222.9h0.6M218.9,214.2h0.6M210.4,217.4h0.6M217.8,213.2h0.6M217.5,214.4h0.6M221.3,216.6h0.6M201.2,218.2h0.6M214.4,214.4h0.6M169.8,230.1h0.6M211.5,217.4h0.6M207.9,215.6h0.6M191.3,222.5h0.6M220.8,216.7h0.6M173.5,228.1h0.6M196.7,219.3h0.6M173.9,226.2h0.6M191.7,221.3h0.6M179.8,225.0h0.6M196.7,220.5h0.6M198.8,217.9h0.6M216.3,213.6h0.6M220.6,216.8h0.6M172.3,228.2h0.6M221.0,215.2h0.6M196.3,219.2h0.6M165.7,229.2h0.6M171.3,227.6h0.6M201.1,218.3h0.6M219.9,215.4h0.6M185.4,224.9h0.6M201.4,218.2h0.6M214.9,215.0h0.6M185.3,223.9h0.6M181.7,226.2h0.6M178.4,227.4h0.6M167.8,227.9h0.6M196.6,218.7h0.6M193.9,219.4h0.6M213.4,215.8h0.6M204.4,218.4h0.6M222.5,217.5h0.6M206.1,214.9h0.6M166.9,229.5h0.6M221.2,215.1h0.6M197.5,217.8h0.6M188.5,223.7h0.6M198.8,220.0h0.6M164.8,229.5h0.6M174.6,228.2h0.6M170.0,230.1h0.6M179.8,226.6h0.6M194.4,219.9h0.6M221.0,215.2h0.6M205.1,215.4h0.6M213.0,217.1h0.6M170.5,229.3h0.6M180.0,224.2h0.6M185.5,224.0h0.6M220.3,216.6h0.6M222.6,217.4h0.6M202.6,216.6h0.6M206.8,216.7h0.6M185.2,224.8h0.6M179.0,224.5h0.6M173.3,226.5h0.6M198.7,219.9h0.6M173.4,227.6h0.6M197.9,219.4h0.6M188.3,222.6h0.6M164.9,229.0h0.6M188.9,221.4h0.6M208.7,215.7h0.6M212.6,215.0h0.6M169.5,228.8h0.6M186.9,222.5h0.6M209.1,219.0h0.6M203.5,218.4h0.6M190.7,221.7h0.6M218.5,214.5h0.6M174.7,225.8h0.6M168.8,228.6h0.6M169.2,229.5h0.6M189.0,221.7h0.6M194.2,221.9h0.6M178.4,224.8h0.6M182.0,224.1h0.6M217.7,214.7h0.6M189.3,221.1h0.6M166.7,228.6h0.6M214.0,215.3h0.6M173.2,228.0h0.6M167.4,229.6h0.6M183.8,222.8h0.6M207.8,217.2h0.6M194.1,219.5h0.6M203.5,217.1h0.6M203.0,216.2h0.6M217.3,212.4h0.6M177.1,226.0h0.6M175.7,225.5h0.6M204.6,218.6h0.6M183.8,223.3h0.6M203.6,216.4h0.6M187.6,223.3h0.6M189.4,221.0h0.6M168.2,229.5h0.6M222.4,218.2h0.6M169.9,228.8h0.6M192.8,220.0h0.6M203.5,217.3h0.6M211.7,216.0h0.6M219.1,215.4h0.6M191.9,220.1h0.6M192.5,219.9h0.6M204.5,217.6h0.6M198.1,220.7h0.6M166.7,230.5h0.6M211.3,215.9h0.6M183.0,222.9h0.6M198.4,219.8h0.6M184.5,224.4h0.6M185.6,224.1h0.6M180.3,226.7h0.6M189.8,220.4h0.6M169.4,229.7h0.6M215.0,214.8h0.6M173.2,228.8h0.6M206.3,215.3h0.6M186.5,223.7h0.6M164.2,229.2h0.6M184.9,224.9h0.6M222.8,216.6h0.6M217.6,215.0h0.6M215.0,214.6h0.6M221.2,216.1h0.6M219.9,215.0h0.6M175.6,226.9h0.6M192.5,220.6h0.6M186.0,223.3h0.6M198.7,218.1h0.6M180.4,225.2h0.6M193.7,220.4h0.6M203.2,216.4h0.6M195.4,219.4h0.6M209.4,220.1h0.6M210.1,218.6h0.6M178.7,227.1h0.6M194.1,220.1h0.6M181.1,224.6h0.6M205.8,217.5h0.6M192.5,221.8h0.6M176.6,226.3h0.6M185.1,223.0h0.6M185.2,224.4h0.6M207.3,215.6h0.6M177.8,227.0h0.6M202.6,218.2h0.6M201.5,218.6h0.6M180.1,223.9h0.6M185.3,222.0h0.6M220.8,215.4h0.6M203.5,218.8h0.6M211.5,216.0h0.6M183.9,222.8h0.6M210.9,218.2h0.6M192.8,220.6h0.6M179.9,225.3h0.6M206.0,217.8h0.6M214.1,216.0h0.6M189.9,221.7h0.6M182.5,226.0h0.6M174.8,226.0h0.6M180.6,226.5h0.6M214.3,214.1h0.6M214.2,216.0h0.6M189.2,221.2h0.6M209.6,218.8h0.6M171.0,229.7h0.6M189.9,221.6h0.6M199.1,218.0h0.6M165.2,230.0h0.6M186.4,221.6h0.6M185.9,224.1h0.6M183.6,224.7h0.6M200.8,217.2h0.6M165.2,230.9h0.6M200.0,217.8h0.6M175.8,227.9h0.6M217.6,213.2h0.6M198.6,219.2h0.6M183.0,222.8h0.6M183.2,224.7h0.6M199.5,218.7h0.6M171.2,227.4h0.6M182.4,224.2h0.6M185.4,224.8h0.6M170.8,230.0h0.6M178.2,227.1h0.6M178.4,226.2h0.6M186.3,221.7h0.6M211.0,218.4h0.6M179.9,226.2h0.6M192.3,222.7h0.6M167.2,229.3h0.6M177.4,226.6h0.6M209.9,219.9h0.6M196.4,219.4h0.6M211.2,215.9h0.6M179.3,226.4h0.6M190.0,223.5h0.6M169.4,228.8h0.6M176.5,224.9h0.6M169.5,227.6h0.6M185.8,223.1h0.6M194.0,219.9h0.6M205.4,216.7h0.6M221.9,215.2h0.6M194.1,220.5h0.6M185.9,224.5h0.6M176.4,227.8h0.6M185.1,223.1h0.6M200.3,218.6h0.6M180.8,223.7h0.6M220.4,214.6h0.6M170.7,229.0h0.6M195.4,219.5h0.6M183.4,225.3h0.6M184.0,223.7h0.6M220.5,214.7h0.6M187.7,221.6h0.6M203.1,218.0h0.6M190.3,221.5h0.6M177.7,227.0h0.6M191.0,222.7h0.6M186.1,224.0h0.6M165.7,229.3h0.6M220.7,215.9h0.6M203.9,217.2h0.6M191.9,220.3h0.6M174.2,227.8h0.6M204.9,216.1h0.6M202.0,216.7h0.6M200.2,217.4h0.6M194.1,219.9h0.6M196.5,218.5h0.6M192.5,221.4h0.6M172.0,227.4h0.6M204.0,217.3h0.6M200.4,219.3h0.6M197.7,218.4h0.6M190.1,222.9h0.6M197.4,220.2h0.6M185.5,223.3h0.6M221.2,216.7h0.6M202.5,216.4h0.6M200.1,217.0h0.6M219.1,215.9h0.6M207.0,215.8h0.6M213.9,213.9h0.6M212.8,215.7h0.6M164.9,231.7h0.6M190.0,223.0h0.6M204.6,217.1h0.6M214.9,213.5h0.6M217.0,213.5h0.6M165.5,229.7h0.6M167.9,228.1h0.6M200.8,217.0h0.6M173.4,226.9h0.6M180.4,226.5h0.6M217.4,215.2h0.6M222.4,216.6h0.6M211.0,216.8h0.6M218.7,215.3h0.6M207.2,215.6h0.6M169.4,230.3h0.6M196.6,220.0h0.6M214.9,213.3h0.6M205.3,216.6h0.6M210.4,218.0h0.6M175.6,228.3h0.6M180.6,225.9h0.6M213.0,214.7h0.6M205.0,216.5h0.6M177.2,225.4h0.6M220.3,214.6h0.6M194.1,220.5h0.6M165.6,231.0h0.6M208.0,217.7h0.6M185.1,222.7h0.6M184.5,224.5h0.6M202.8,217.3h0.6M195.0,219.1h0.6M218.2,214.0h0.6M193.9,221.5h0.6M175.7,227.5h0.6M184.8,224.7h0.6M169.6,228.2h0.6M201.5,218.0h0.6M186.2,223.5h0.6M176.8,226.2h0.6M164.1,231.7h0.6M179.0,226.7h0.6M196.6,220.0h0.6M200.9,217.0h0.6M209.9,218.2h0.6M214.9,215.3h0.6M204.0,218.2h0.6M189.8,222.6h0.6M220.2,214.0h0.6M169.9,228.5h0.6M194.1,219.4h0.6M177.1,227.5h0.6M186.9,221.9h0.6M174.8,227.3h0.6M175.2,226.9h0.6M195.7,219.8h0.6M193.7,221.7h0.6M165.0,231.8h0.6M175.8,225.3h0.6M209.3,219.9h0.6M195.7,219.1h0.6M210.1,217.9h0.6M206.9,215.6h0.6M197.8,219.7h0.6M185.9,223.2h0.6M167.8,229.9h0.6M204.8,215.8h0.6M196.5,220.5h0.6M170.0,229.8h0.6M215.4,212.8h0.6M178.7,224.4h0.6M178.9,224.4h0.6M192.9,220.1h0.6M181.7,224.6h0.6M185.9,224.2h0.6M206.6,215.3h0.6M177.2,224.7h0.6M183.4,222.9h0.6M205.1,217.7h0.6M222.8,216.2h0.6M166.2,230.8h0.6M188.3,223.9h0.6M187.2,222.3h0.6M168.3,230.7h0.6M194.2,220.3h0.6M189.8,222.9h0.6M213.0,215.4h0.6M174.5,226.9h0.6M216.6,213.7h0.6M203.0,217.7h0.6M191.2,221.7h0.6M178.5,226.0h0.6M215.0,213.0h0.6M185.8,224.6h0.6M221.7,214.5h0.6M201.0,218.6h0.6M213.7,214.9h0.6M171.7,227.5h0.6M206.0,217.2h0.6M176.1,227.1h0.6M202.7,218.1h0.6M165.3,230.1h0.6M183.2,224.6h0.6M183.9,222.8h0.6M203.6,216.6h0.6M210.6,217.2h0.6M196.2,220.8h0.6M170.8,229.2h0.6M168.0,230.8h0.6M165.5,231.0h0.6M185.8,222.3h0.6M187.3,222.8h0.6M188.5,221.2h0.6M194.8,219.6h0.6M221.1,215.2h0.6M189.7,221.2h0.6M221.2,215.1h0.6M202.1,218.9h0.6M187.2,223.7h0.6M180.4,223.9h0.6M166.5,229.8h0.6M215.6,213.2h0.6M190.0,222.8h0.6M180.3,224.1h0.6M194.6,220.1h0.6M219.4,215.8h0.6M178.0,226.2h0.6M188.6,220.9h0.6M190.2,223.2h0.6M181.9,225.0h0.6M205.9,215.1h0.6M218.5,213.0h0.6M181.8,225.4h0.6M165.1,230.0h0.6M171.5,228.1h0.6M164.9,229.3h0.6M177.1,225.0h0.6M169.3,228.0h0.6M194.5,219.2h0.6M212.4,215.7h0.6M178.9,224.9h0.6M213.5,213.7h0.6M207.8,215.2h0.6M219.7,214.4h0.6M199.3,219.9h0.6M169.9,227.4h0.6M204.9,217.1h0.6M206.5,215.8h0.6M193.3,219.8h0.6M189.8,221.3h0.6M198.6,218.4h0.6M180.2,225.7h0.6M169.0,230.0h0.6M193.2,219.9h0.6M170.8,228.5h0.6M193.7,221.4h0.6M186.1,223.0h0.6M216.7,213.3h0.6M221.9,217.5h0.6M222.4,218.2h0.6M179.2,226.6h0.6M200.1,217.5h0.6M222.9,217.7h0.6M211.8,216.8h0.6M168.7,230.3h0.6M174.4,226.5h0.6M200.4,217.4h0.6M191.3,222.2h0.6M169.7,229.4h0.6M170.2,228.6h0.6M202.3,218.3h0.6M166.5,228.9h0.6M220.6,214.9h0.6M189.1,221.8h0.6M205.1,217.6h0.6" stroke="#4868ff" stroke-width="0.7" opacity="0.6"/>
<ellipse cx="196" cy="230" rx="10" ry="6" transform="rotate(-20 196 230)" fill="#0818c8" opacity="0.55" filter="url(#bl2)"/>
<ellipse cx="216.6" cy="227.2" rx="4.2" ry="7" transform="rotate(25 216.6 227.2)" fill="url(#gCy)"/>
<ellipse cx="180.5" cy="234.5" rx="11" ry="7.5" transform="rotate(-25 180.5 234.5)" fill="url(#gHot)"/>
<ellipse cx="175.6" cy="239.8" rx="1.8" ry="3.8" transform="rotate(40 175.6 239.8)" fill="#90e050" opacity="0.8" filter="url(#bl)"/>
<rect x="207" y="200.2" width="33.2" height="42.3" fill="none" stroke="#e0405e" stroke-width="0.95" stroke-dasharray="2.6,1.2"/>
<text x="208.3" y="207.6" font-size="3.6" fill="#d88090">32.9</text>
<path d="M158.2,249.2 L158.2,223.5 M158.2,249.2 L185.5,249.2" stroke="#333" stroke-width="0.8" fill="none"/><path d="M156.7,224 L158.2,221 L159.7,224 Z M185,247.7 L188,249.2 L185,250.7 Z" fill="#333"/>
<text x="198.20" y="252.30" font-size="5.6" text-anchor="middle" fill="#222" stroke="#222" stroke-width="0.22" >hCD45</text>
<text transform="translate(159.7,208) rotate(-90)" font-size="5.1" text-anchor="middle" fill="#222" stroke="#222" stroke-width="0.22">SSC-A</text>
<text x="252.60" y="167.30" font-size="11.8" text-anchor="start" font-weight="bold" fill="#000" >D</text>
<text x="352.90" y="177.80" font-size="6.5" text-anchor="middle" font-weight="bold" fill="#111" stroke="#111" stroke-width="0.2" >P08</text>
<line x1="281.50" y1="185.20" x2="281.50" y2="282.90" stroke="#111" stroke-width="1.0" />
<line x1="281.00" y1="282.50" x2="424.40" y2="282.50" stroke="#111" stroke-width="1.0" />
<line x1="280.00" y1="282.30" x2="281.60" y2="282.30" stroke="#111" stroke-width="0.8" />
<text x="277.50" y="284.30" font-size="5.8" text-anchor="end" fill="#1e1e1e" stroke="#1e1e1e" stroke-width="0.22" >0</text>
<line x1="280.00" y1="270.40" x2="281.60" y2="270.40" stroke="#111" stroke-width="0.8" />
<text x="277.50" y="272.40" font-size="5.8" text-anchor="end" fill="#1e1e1e" stroke="#1e1e1e" stroke-width="0.22" >10</text>
<line x1="280.00" y1="258.50" x2="281.60" y2="258.50" stroke="#111" stroke-width="0.8" />
<text x="277.50" y="260.50" font-size="5.8" text-anchor="end" fill="#1e1e1e" stroke="#1e1e1e" stroke-width="0.22" >20</text>
<line x1="280.00" y1="246.60" x2="281.60" y2="246.60" stroke="#111" stroke-width="0.8" />
<text x="277.50" y="248.60" font-size="5.8" text-anchor="end" fill="#1e1e1e" stroke="#1e1e1e" stroke-width="0.22" >30</text>
<line x1="280.00" y1="234.70" x2="281.60" y2="234.70" stroke="#111" stroke-width="0.8" />
<text x="277.50" y="236.70" font-size="5.8" text-anchor="end" fill="#1e1e1e" stroke="#1e1e1e" stroke-width="0.22" >40</text>
<line x1="280.00" y1="222.80" x2="281.60" y2="222.80" stroke="#111" stroke-width="0.8" />
<text x="277.50" y="224.80" font-size="5.8" text-anchor="end" fill="#1e1e1e" stroke="#1e1e1e" stroke-width="0.22" >50</text>
<line x1="280.00" y1="210.90" x2="281.60" y2="210.90" stroke="#111" stroke-width="0.8" />
<text x="277.50" y="212.90" font-size="5.8" text-anchor="end" fill="#1e1e1e" stroke="#1e1e1e" stroke-width="0.22" >60</text>
<line x1="280.00" y1="199.00" x2="281.60" y2="199.00" stroke="#111" stroke-width="0.8" />
<text x="277.50" y="201.00" font-size="5.8" text-anchor="end" fill="#1e1e1e" stroke="#1e1e1e" stroke-width="0.22" >70</text>
<line x1="280.00" y1="187.10" x2="281.60" y2="187.10" stroke="#111" stroke-width="0.8" />
<text x="277.50" y="189.10" font-size="5.8" text-anchor="end" fill="#1e1e1e" stroke="#1e1e1e" stroke-width="0.22" >80</text>
<text transform="translate(266.8,233.4) rotate(-90)" font-size="6.4" text-anchor="middle" fill="#1e1e1e" stroke="#1e1e1e" stroke-width="0.22">Var. allele frequency [%]</text>
<line x1="295.70" y1="282.30" x2="295.70" y2="284.30" stroke="#111" stroke-width="0.7" />
<line x1="324.00" y1="282.30" x2="324.00" y2="284.30" stroke="#111" stroke-width="0.7" />
<line x1="352.30" y1="282.30" x2="352.30" y2="284.30" stroke="#111" stroke-width="0.7" />
<line x1="380.60" y1="282.30" x2="380.60" y2="284.30" stroke="#111" stroke-width="0.7" />
<line x1="408.90" y1="282.30" x2="408.90" y2="284.30" stroke="#111" stroke-width="0.7" />
<rect x="284.00" y="243.03" width="4.68" height="39.27" fill="#b2032f" stroke="rgba(0,0,0,0.18)" stroke-width="0.4"/>
<line x1="286.34" y1="240.29" x2="286.34" y2="245.77" stroke="#0a0a0a" stroke-width="0.95" />
<line x1="285.04" y1="240.29" x2="287.64" y2="240.29" stroke="#0a0a0a" stroke-width="1.2" />
<rect x="288.68" y="235.06" width="4.68" height="47.24" fill="#4e266a" stroke="rgba(0,0,0,0.18)" stroke-width="0.4"/>
<line x1="291.02" y1="232.92" x2="291.02" y2="237.20" stroke="#0a0a0a" stroke-width="0.95" />
<line x1="289.72" y1="232.92" x2="292.32" y2="232.92" stroke="#0a0a0a" stroke-width="1.2" />
<rect x="293.36" y="241.84" width="4.68" height="40.46" fill="#c9037a" stroke="rgba(0,0,0,0.18)" stroke-width="0.4"/>
<line x1="295.70" y1="237.56" x2="295.70" y2="246.12" stroke="#0a0a0a" stroke-width="0.95" />
<line x1="294.40" y1="237.56" x2="297.00" y2="237.56" stroke="#0a0a0a" stroke-width="1.2" />
<rect x="298.04" y="199.00" width="4.68" height="83.30" fill="#5e3b1b" stroke="rgba(0,0,0,0.18)" stroke-width="0.4"/>
<line x1="300.38" y1="194.48" x2="300.38" y2="203.52" stroke="#0a0a0a" stroke-width="0.95" />
<line x1="299.08" y1="194.48" x2="301.68" y2="194.48" stroke="#0a0a0a" stroke-width="1.2" />
<rect x="302.72" y="231.25" width="4.68" height="51.05" fill="#64ab42" stroke="rgba(0,0,0,0.18)" stroke-width="0.4"/>
<line x1="305.06" y1="230.89" x2="305.06" y2="231.61" stroke="#0a0a0a" stroke-width="0.95" />
<line x1="303.76" y1="230.89" x2="306.36" y2="230.89" stroke="#0a0a0a" stroke-width="1.2" />
<rect x="331.02" y="281.23" width="4.68" height="1.07" fill="#64ab42" stroke="rgba(0,0,0,0.18)" stroke-width="0.4"/>
<rect x="340.60" y="240.41" width="4.68" height="41.89" fill="#b2032f" stroke="rgba(0,0,0,0.18)" stroke-width="0.4"/>
<line x1="342.94" y1="239.46" x2="342.94" y2="241.36" stroke="#0a0a0a" stroke-width="0.95" />
<line x1="341.64" y1="239.46" x2="344.24" y2="239.46" stroke="#0a0a0a" stroke-width="1.2" />
<rect x="345.28" y="281.23" width="4.68" height="1.07" fill="#4e266a" stroke="rgba(0,0,0,0.18)" stroke-width="0.4"/>
<line x1="347.62" y1="279.44" x2="347.62" y2="282.30" stroke="#0a0a0a" stroke-width="0.95" />
<line x1="346.32" y1="279.44" x2="348.92" y2="279.44" stroke="#0a0a0a" stroke-width="1.2" />
<rect x="359.32" y="281.82" width="4.68" height="0.48" fill="#64ab42" stroke="rgba(0,0,0,0.18)" stroke-width="0.4"/>
<line x1="361.66" y1="279.21" x2="361.66" y2="282.30" stroke="#0a0a0a" stroke-width="0.95" />
<line x1="360.36" y1="279.21" x2="362.96" y2="279.21" stroke="#0a0a0a" stroke-width="1.2" />
<rect x="368.90" y="232.56" width="4.68" height="49.74" fill="#b2032f" stroke="rgba(0,0,0,0.18)" stroke-width="0.4"/>
<line x1="371.24" y1="228.75" x2="371.24" y2="236.37" stroke="#0a0a0a" stroke-width="0.95" />
<line x1="369.94" y1="228.75" x2="372.54" y2="228.75" stroke="#0a0a0a" stroke-width="1.2" />
<rect x="373.58" y="277.18" width="4.68" height="5.12" fill="#4e266a" stroke="rgba(0,0,0,0.18)" stroke-width="0.4"/>
<line x1="375.92" y1="271.23" x2="375.92" y2="282.30" stroke="#0a0a0a" stroke-width="0.95" />
<line x1="374.62" y1="271.23" x2="377.22" y2="271.23" stroke="#0a0a0a" stroke-width="1.2" />
<rect x="387.62" y="278.85" width="4.68" height="3.45" fill="#64ab42" stroke="rgba(0,0,0,0.18)" stroke-width="0.4"/>
<line x1="389.96" y1="275.16" x2="389.96" y2="282.30" stroke="#0a0a0a" stroke-width="0.95" />
<line x1="388.66" y1="275.16" x2="391.26" y2="275.16" stroke="#0a0a0a" stroke-width="1.2" />
<rect x="397.20" y="244.46" width="4.68" height="37.84" fill="#b2032f" stroke="rgba(0,0,0,0.18)" stroke-width="0.4"/>
<line x1="399.54" y1="238.63" x2="399.54" y2="250.29" stroke="#0a0a0a" stroke-width="0.95" />
<line x1="398.24" y1="238.63" x2="400.84" y2="238.63" stroke="#0a0a0a" stroke-width="1.2" />
<rect x="401.88" y="278.61" width="4.68" height="3.69" fill="#4e266a" stroke="rgba(0,0,0,0.18)" stroke-width="0.4"/>
<line x1="404.22" y1="278.25" x2="404.22" y2="278.97" stroke="#0a0a0a" stroke-width="0.95" />
<line x1="402.92" y1="278.25" x2="405.52" y2="278.25" stroke="#0a0a0a" stroke-width="1.2" />
<rect x="415.92" y="279.56" width="4.68" height="2.74" fill="#64ab42" stroke="rgba(0,0,0,0.18)" stroke-width="0.4"/>
<line x1="418.26" y1="275.16" x2="418.26" y2="282.30" stroke="#0a0a0a" stroke-width="0.95" />
<line x1="416.96" y1="275.16" x2="419.56" y2="275.16" stroke="#0a0a0a" stroke-width="1.2" />
<text x="296.60" y="291.20" font-size="5.9" text-anchor="middle" fill="#1e1e1e" stroke="#1e1e1e" stroke-width="0.22" >pry BM</text>
<text x="324.50" y="291.20" font-size="5.9" text-anchor="middle" fill="#1e1e1e" stroke="#1e1e1e" stroke-width="0.22" >MSC</text>
<text x="352.30" y="291.40" font-size="5.9" text-anchor="middle" fill="#1e1e1e" stroke="#1e1e1e" stroke-width="0.22" >hCD45</text>
<line x1="341.00" y1="294.70" x2="363.60" y2="294.70" stroke="#3a3a3a" stroke-width="1.2" />
<text x="352.30" y="301.80" font-size="6" text-anchor="middle" fill="#1e1e1e" stroke="#1e1e1e" stroke-width="0.22" >#06</text>
<text x="380.60" y="291.40" font-size="5.9" text-anchor="middle" fill="#1e1e1e" stroke="#1e1e1e" stroke-width="0.22" >hCD45</text>
<line x1="369.30" y1="294.70" x2="391.90" y2="294.70" stroke="#3a3a3a" stroke-width="1.2" />
<text x="380.60" y="301.80" font-size="6" text-anchor="middle" fill="#1e1e1e" stroke="#1e1e1e" stroke-width="0.22" >#08</text>
<text x="408.90" y="291.40" font-size="5.9" text-anchor="middle" fill="#1e1e1e" stroke="#1e1e1e" stroke-width="0.22" >hCD45</text>
<line x1="397.60" y1="294.70" x2="420.20" y2="294.70" stroke="#3a3a3a" stroke-width="1.2" />
<text x="408.90" y="301.80" font-size="6" text-anchor="middle" fill="#1e1e1e" stroke="#1e1e1e" stroke-width="0.22" >#10</text>
<path d="M334.4,301.0 C334.4,304.2 335.6,305.3 338.5,305.3 L376.8,305.3 C379.2,305.3 380.1,305.9 380.4,308.4 C380.7,305.9 381.6,305.3 384,305.3 L421.4,305.3 C424.1,305.3 425.2,304.2 425.2,301.0" fill="none" stroke="#1a1a1a" stroke-width="1.1"/>
<text x="379.90" y="317.50" font-size="6" text-anchor="middle" fill="#1e1e1e" stroke="#1e1e1e" stroke-width="0.22" >NSGS</text>
<rect x="392.10" y="185.45" width="10.50" height="4.80" fill="#b2032f" stroke="rgba(0,0,0,0.45)" stroke-width="0.5"/>
<text x="405.00" y="189.85" font-size="5.6" text-anchor="start" fill="#1e1e1e" stroke="#1e1e1e" stroke-width="0.22" >ASXL1 T655fs</text>
<rect x="392.10" y="193.78" width="10.50" height="4.80" fill="#5e3b1b" stroke="rgba(0,0,0,0.45)" stroke-width="0.5"/>
<text x="405.00" y="198.18" font-size="5.6" text-anchor="start" fill="#1e1e1e" stroke="#1e1e1e" stroke-width="0.22" >EZH2 I122T</text>
<rect x="392.10" y="202.11" width="10.50" height="4.80" fill="#4e266a" stroke="rgba(0,0,0,0.45)" stroke-width="0.5"/>
<text x="405.00" y="206.51" font-size="5.6" text-anchor="start" fill="#1e1e1e" stroke="#1e1e1e" stroke-width="0.22" >RUNX1 R107P</text>
<rect x="392.10" y="210.44" width="10.50" height="4.80" fill="#64ab42" stroke="rgba(0,0,0,0.45)" stroke-width="0.5"/>
<text x="405.00" y="214.84" font-size="5.6" text-anchor="start" fill="#1e1e1e" stroke="#1e1e1e" stroke-width="0.22" >7qUPD</text>
<rect x="392.10" y="218.77" width="10.50" height="4.80" fill="#c9037a" stroke="rgba(0,0,0,0.45)" stroke-width="0.5"/>
<text x="405.00" y="223.17" font-size="5.6" text-anchor="start" fill="#1e1e1e" stroke="#1e1e1e" stroke-width="0.22" >STAG2 R1045X</text>
<text x="455.50" y="166.90" font-size="11.8" text-anchor="start" font-weight="bold" fill="#000" >E</text>
<path d="M463.2,278.8 L463.2,171.5 L513.3,171.5 L513.3,278.8 Z" fill="none" stroke="#1a1a1a" stroke-width="1.15" stroke-dasharray="3.5,2.3" stroke-dashoffset="-1"/>
<circle cx="488.3" cy="195.8" r="22.6" fill="#ad0830" stroke="#3a0010" stroke-width="0.9"/>
<text x="488.30" y="198.40" font-size="5.6" text-anchor="middle" fill="#f6dde6" stroke="#f6dde6" stroke-width="0.22" >ASXL1</text>
<path d="M488.1,218.3 L488.1,227.2" stroke="#111" stroke-width="0.9"/><path d="M486.1,226.2 L490.1,226.2 L488.1,230.8 Z" fill="#111"/>
<defs><clipPath id="cE"><circle cx="487.9" cy="253.6" r="22.6"/></clipPath></defs>
<g clip-path="url(#cE)">
<rect x="464.00" y="230.00" width="48.00" height="19.60" fill="#ad0830" />
<rect x="464.00" y="249.60" width="48.00" height="9.00" fill="#55276e" />
<rect x="464.00" y="258.60" width="48.00" height="8.00" fill="#67ad45" />
<rect x="464.00" y="266.60" width="48.00" height="12.00" fill="#c70c78" />
</g>
<circle cx="487.9" cy="253.6" r="22.6" fill="none" stroke="#3a0010" stroke-width="0.9"/>
<text x="487.90" y="238.60" font-size="5.6" text-anchor="middle" fill="#f8e8ee" stroke="#f8e8ee" stroke-width="0.22" >ASXL1</text>
<text x="487.90" y="247.10" font-size="5.6" text-anchor="middle" fill="#f8e8ee" stroke="#f8e8ee" stroke-width="0.22" >+ EZH2</text>
<text x="487.90" y="255.70" font-size="5.6" text-anchor="middle" fill="#f8e8ee" stroke="#f8e8ee" stroke-width="0.22" >+RUNX1</text>
<text x="487.90" y="264.50" font-size="5.6" text-anchor="middle" fill="#f8e8ee" stroke="#f8e8ee" stroke-width="0.22" >+7qUPD</text>
<text x="487.90" y="272.90" font-size="5.6" text-anchor="middle" fill="#f8e8ee" stroke="#f8e8ee" stroke-width="0.22" >+STAG2</text>
<rect x="0.5" y="0.5" width="519" height="324" fill="none" stroke="#000" stroke-width="1.2"/>
</svg>
</body></html>
